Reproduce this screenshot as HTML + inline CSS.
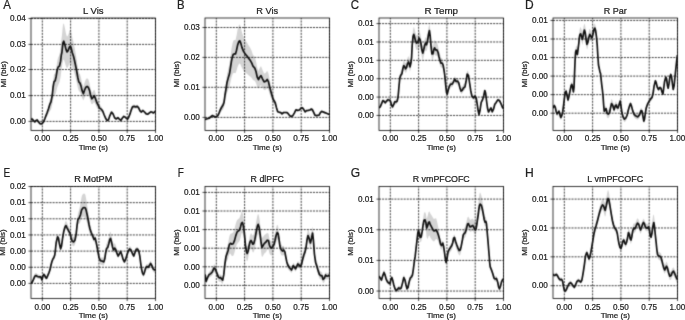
<!DOCTYPE html><html><head><meta charset="utf-8"><style>html,body{margin:0;padding:0;background:#fff;}svg{display:block;will-change:transform}text{font-family:"Liberation Sans", sans-serif;fill:#222;stroke:#222;stroke-width:0.22px}</style></head><body>
<svg width="685" height="320" viewBox="0 0 685 320" xmlns="http://www.w3.org/2000/svg">
<defs><filter id="bl" x="0" y="0" width="685" height="320" filterUnits="userSpaceOnUse" color-interpolation-filters="sRGB"><feConvolveMatrix order="3" kernelMatrix="0.02250 0.10500 0.02250 0.10500 0.49000 0.10500 0.02250 0.10500 0.02250" divisor="1" edgeMode="duplicate"/></filter></defs>
<rect width="685" height="320" fill="#fff"/><g filter="url(#bl)"><rect width="685" height="320" fill="#fff"/>
<clipPath id="clipA"><rect x="31.0" y="18.0" width="124.5" height="112.5"/></clipPath>
<polygon clip-path="url(#clipA)" points="31.0,117.8 31.5,117.6 32.0,117.4 32.5,117.7 33.0,118.5 33.5,119.2 34.0,119.9 34.5,120.4 35.0,120.4 35.5,119.9 36.0,119.2 36.5,119.0 37.0,118.7 37.5,119.0 38.0,119.9 38.5,120.7 39.0,121.3 39.5,122.0 40.0,122.4 40.5,122.6 41.0,122.8 41.5,122.6 42.0,122.4 42.5,122.0 43.0,121.3 43.5,120.7 44.0,119.3 44.5,117.8 45.0,116.3 45.5,114.8 46.0,113.2 46.5,111.8 47.0,110.4 47.5,108.9 48.0,107.2 48.5,105.5 49.0,103.5 49.5,101.6 50.0,100.1 50.5,99.0 51.0,97.8 51.5,94.7 52.0,91.7 52.5,87.5 53.0,81.7 53.5,77.9 54.0,74.6 54.5,74.0 55.0,73.4 55.5,71.9 56.0,69.3 56.5,66.3 57.0,62.6 57.5,59.9 58.0,58.0 58.5,56.8 59.0,55.9 59.5,54.6 60.0,51.7 60.5,48.7 61.0,43.4 61.5,38.6 62.0,34.9 62.5,29.3 63.0,24.7 63.5,23.6 64.0,24.1 64.5,26.2 65.0,28.6 65.5,31.2 66.0,33.8 66.5,35.3 67.0,36.8 67.5,36.1 68.0,35.4 68.5,34.0 69.0,32.4 69.5,30.8 70.0,30.4 70.5,30.3 71.0,31.6 71.5,33.6 72.0,36.2 72.5,38.4 73.0,40.2 73.5,42.0 74.0,44.5 74.5,47.0 75.0,49.7 75.5,52.5 76.0,55.5 76.5,58.5 77.0,62.1 77.5,65.7 78.0,68.8 78.5,71.5 79.0,73.1 79.5,73.7 80.0,74.2 80.5,75.9 81.0,77.7 81.5,80.2 82.0,82.7 82.5,84.4 83.0,85.9 83.5,86.6 84.0,84.8 84.5,82.9 85.0,81.5 85.5,80.2 86.0,79.1 86.5,78.7 87.0,78.3 87.5,78.6 88.0,79.1 88.5,79.8 89.0,81.4 89.5,82.9 90.0,85.6 90.5,88.5 91.0,90.3 91.5,92.1 92.0,92.7 92.5,92.1 93.0,91.5 93.5,90.6 94.0,89.7 94.5,90.0 95.0,91.5 95.5,93.0 96.0,94.8 96.5,96.6 97.0,98.1 97.5,99.2 98.0,100.3 98.5,101.7 99.0,103.1 99.5,104.5 100.0,105.2 100.5,105.8 101.0,106.3 101.5,106.9 102.0,107.8 102.5,108.8 103.0,110.1 103.5,111.6 104.0,113.1 104.5,114.4 105.0,115.6 105.5,116.9 106.0,118.1 106.5,118.9 107.0,119.8 107.5,119.7 108.0,119.5 108.5,119.0 109.0,117.3 109.5,115.7 110.0,114.2 110.5,113.1 111.0,111.9 111.5,110.8 112.0,111.3 112.5,111.9 113.0,112.4 113.5,113.8 114.0,115.2 114.5,116.5 115.0,117.2 115.5,117.6 116.0,118.0 116.5,118.0 117.0,117.5 117.5,117.0 118.0,116.8 118.5,117.4 119.0,118.0 119.5,118.5 120.0,119.1 120.5,119.6 121.0,119.4 121.5,118.6 122.0,117.8 122.5,117.1 123.0,116.4 123.5,115.7 124.0,115.5 124.5,115.8 125.0,116.0 125.5,116.6 126.0,117.1 126.5,117.6 127.0,118.1 127.5,118.5 128.0,117.5 128.5,116.5 129.0,115.4 129.5,114.0 130.0,112.7 130.5,111.0 131.0,109.4 131.5,107.8 132.0,106.4 132.5,104.9 133.0,104.8 133.5,104.7 134.0,104.6 134.5,104.7 135.0,104.9 135.5,105.1 136.0,105.1 136.5,104.9 137.0,104.7 137.5,104.8 138.0,105.4 138.5,105.9 139.0,107.0 139.5,108.2 140.0,109.3 140.5,109.8 141.0,110.3 141.5,110.6 142.0,110.0 142.5,109.5 143.0,109.2 143.5,109.7 144.0,110.2 144.5,110.7 145.0,111.3 145.5,111.9 146.0,112.5 146.5,112.8 147.0,112.9 147.5,113.1 148.0,113.1 148.5,112.6 149.0,112.2 149.5,111.7 150.0,111.2 150.5,110.7 151.0,110.6 151.5,110.7 152.0,110.9 152.5,111.2 153.0,111.5 153.5,111.8 154.0,111.3 154.5,110.8 155.0,110.2 155.0,112.7 154.5,113.2 154.0,113.7 153.5,114.2 153.0,113.9 152.5,113.6 152.0,113.4 151.5,113.3 151.0,113.1 150.5,113.2 150.0,113.7 149.5,114.1 149.0,114.5 148.5,114.9 148.0,115.3 147.5,115.3 147.0,115.2 146.5,115.1 146.0,114.8 145.5,114.3 145.0,113.8 144.5,113.3 144.0,112.9 143.5,112.4 143.0,112.0 142.5,112.3 142.0,112.8 141.5,113.2 141.0,113.0 140.5,112.6 140.0,112.2 139.5,111.2 139.0,110.3 138.5,109.3 138.0,108.9 137.5,108.4 137.0,108.3 136.5,108.5 136.0,108.7 135.5,108.7 135.0,108.5 134.5,108.4 134.0,108.3 133.5,108.4 133.0,108.5 132.5,108.6 132.0,109.8 131.5,111.0 131.0,112.3 130.5,113.7 130.0,115.1 129.5,116.2 129.0,117.4 128.5,118.4 128.0,119.2 127.5,120.0 127.0,119.6 126.5,119.3 126.0,118.9 125.5,118.4 125.0,118.0 124.5,117.7 124.0,117.5 123.5,117.7 123.0,118.3 122.5,118.8 122.0,119.4 121.5,120.1 121.0,120.8 120.5,120.9 120.0,120.5 119.5,120.1 119.0,119.6 118.5,119.1 118.0,118.6 117.5,118.8 117.0,119.2 116.5,119.6 116.0,119.6 115.5,119.3 115.0,118.9 114.5,118.5 114.0,117.3 113.5,116.2 113.0,115.1 112.5,114.6 112.0,114.2 111.5,113.7 111.0,114.7 110.5,115.6 110.0,116.6 109.5,117.8 109.0,119.1 108.5,120.5 108.0,120.9 107.5,121.1 107.0,121.1 106.5,120.4 106.0,119.7 105.5,118.8 105.0,117.8 104.5,116.7 104.0,115.7 103.5,114.7 103.0,113.7 102.5,112.9 102.0,112.4 101.5,112.0 101.0,111.8 100.5,111.7 100.0,111.5 99.5,111.3 99.0,110.6 98.5,109.9 98.0,109.4 97.5,108.6 97.0,107.9 96.5,106.9 96.0,105.7 95.5,104.5 95.0,103.5 94.5,102.5 94.0,102.3 93.5,102.9 93.0,103.5 92.5,103.9 92.0,104.3 91.5,103.9 91.0,102.7 90.5,101.5 90.0,99.5 89.5,97.8 89.0,96.7 88.5,95.7 88.0,95.2 87.5,94.9 87.0,94.7 86.5,94.9 86.0,95.2 85.5,96.0 85.0,96.8 84.5,97.7 84.0,99.0 83.5,100.2 83.0,99.7 82.5,98.7 82.0,97.6 81.5,96.0 81.0,94.3 80.5,93.1 80.0,92.0 79.5,91.6 79.0,91.2 78.5,90.1 78.0,88.4 77.5,86.3 77.0,83.9 76.5,81.5 76.0,79.5 75.5,77.5 75.0,75.6 74.5,73.8 74.0,72.1 73.5,70.5 73.0,69.3 72.5,68.1 72.0,66.6 71.5,65.0 71.0,63.8 70.5,63.1 70.0,63.3 69.5,63.7 69.0,64.8 68.5,66.0 68.0,67.1 67.5,67.7 67.0,68.3 66.5,67.4 66.0,66.6 65.5,64.8 65.0,63.0 64.5,61.4 64.0,60.0 63.5,59.6 63.0,60.2 62.5,63.2 62.0,66.7 61.5,69.7 61.0,73.4 60.5,77.3 60.0,79.7 59.5,82.0 59.0,83.3 58.5,84.3 58.0,85.5 57.5,86.7 57.0,88.3 56.5,90.5 56.0,92.4 55.5,93.9 55.0,94.8 54.5,95.2 54.0,95.6 53.5,97.5 53.0,99.8 52.5,103.3 52.0,105.8 51.5,107.7 51.0,109.6 50.5,110.2 50.0,111.0 49.5,111.6 49.0,112.6 48.5,113.6 48.0,114.5 47.5,115.5 47.0,116.3 46.5,117.1 46.0,118.0 45.5,119.0 45.0,120.0 44.5,121.0 44.0,122.0 43.5,123.1 43.0,123.7 42.5,124.4 42.0,124.8 41.5,125.0 41.0,125.2 40.5,125.0 40.0,124.8 39.5,124.4 39.0,123.7 38.5,123.1 38.0,122.4 37.5,121.8 37.0,121.6 36.5,121.8 36.0,122.0 35.5,122.4 35.0,122.8 34.5,122.8 34.0,122.4 33.5,122.0 33.0,121.4 32.5,120.9 32.0,120.7 31.5,120.9 31.0,121.0" fill="#d4d4d4"/>
<path d="M42.32 130.50V18.00M70.61 130.50V18.00M98.91 130.50V18.00M127.20 130.50V18.00M155.50 130.50V18.00M31.00 121.40H155.50M31.00 95.60H155.50M31.00 69.50H155.50M31.00 44.40H155.50M31.00 18.50H155.50" stroke="#000" stroke-width="0.75" stroke-dasharray="2.02 1.065" fill="none"/>
<polyline clip-path="url(#clipA)" points="31.0,119.4 32.2,119.0 33.5,120.6 34.8,121.9 36.0,120.6 37.2,120.0 38.5,121.9 39.8,123.5 41.0,124.0 42.2,123.5 43.5,121.9 44.8,118.8 46.0,115.6 47.2,112.5 48.5,108.8 49.8,104.4 51.0,101.9 52.3,95.0 53.1,87.0 54.0,81.9 55.2,80.6 56.2,76.2 57.2,70.0 58.1,67.2 59.4,66.2 60.6,61.2 61.3,55.0 61.9,52.5 62.9,43.1 63.8,41.2 64.8,44.4 66.0,49.4 67.0,51.9 68.1,50.6 69.5,46.9 70.4,46.2 71.2,48.1 72.2,52.5 73.5,56.2 74.4,60.0 75.2,63.8 76.5,70.0 77.8,77.5 78.8,81.9 80.0,83.1 80.9,85.6 82.1,90.6 83.4,93.8 84.6,90.0 85.9,87.2 87.1,86.4 88.4,87.5 89.6,90.6 90.5,95.0 91.8,98.8 93.0,97.5 94.2,95.6 95.5,98.8 96.8,102.5 98.4,105.6 99.6,108.1 101.5,109.4 102.8,111.2 104.2,115.0 105.9,118.8 107.1,120.6 108.4,120.0 109.9,115.6 111.5,112.2 113.0,113.8 114.6,117.8 116.2,119.0 117.9,117.6 119.1,118.9 120.8,120.5 122.2,118.2 123.8,116.4 125.0,117.0 126.2,118.2 127.5,119.2 128.8,117.0 130.0,113.9 131.2,110.1 132.5,106.8 134.1,106.4 135.8,107.0 137.2,106.4 138.5,107.6 140.0,110.8 141.4,112.0 142.9,110.5 144.5,112.0 146.2,113.9 147.9,114.2 149.1,113.2 150.8,111.8 152.2,112.2 153.5,113.0 154.8,111.8 155.4,111.0" fill="none" stroke="#111" stroke-width="1.7" stroke-linejoin="round" stroke-linecap="butt"/>
<rect x="31.0" y="18.0" width="124.5" height="112.5" fill="none" stroke="#000" stroke-width="0.78"/>
<path d="M42.32 130.50v2.5M70.61 130.50v2.5M98.91 130.50v2.5M127.20 130.50v2.5M155.50 130.50v2.5M31.00 121.40h-2.5M31.00 95.60h-2.5M31.00 69.50h-2.5M31.00 44.40h-2.5M31.00 18.50h-2.5" stroke="#000" stroke-width="0.72" fill="none"/>
<clipPath id="clipB"><rect x="205.0" y="18.0" width="124.5" height="112.5"/></clipPath>
<polygon clip-path="url(#clipB)" points="205.0,118.2 205.5,118.1 206.0,117.9 206.5,117.8 207.0,117.6 207.5,117.4 208.0,117.2 208.5,117.1 209.0,117.0 209.5,116.8 210.0,116.3 210.5,115.8 211.0,115.3 211.5,114.8 212.0,114.3 212.5,114.2 213.0,114.5 213.5,114.8 214.0,115.0 214.5,115.3 215.0,115.7 215.5,115.5 216.0,115.3 216.5,115.2 217.0,114.7 217.5,114.3 218.0,113.5 218.5,112.3 219.0,111.1 219.5,109.6 220.0,108.1 220.5,106.8 221.0,105.6 221.5,104.4 222.0,103.4 222.5,102.5 223.0,101.6 223.5,100.0 224.0,98.4 224.5,93.9 225.0,89.4 225.5,85.8 226.0,82.2 226.5,78.3 227.0,74.4 227.5,72.3 228.0,70.2 228.5,68.1 229.0,66.0 229.5,63.9 230.0,60.1 230.5,56.4 231.0,52.4 231.5,48.6 232.0,45.9 232.5,43.6 233.0,41.7 233.5,40.6 234.0,40.2 234.5,40.1 235.0,40.1 235.5,40.1 236.0,38.0 236.5,35.7 237.0,32.9 237.5,30.1 238.0,28.1 238.5,26.4 239.0,25.0 239.5,24.5 240.0,25.0 240.5,26.5 241.0,28.3 241.5,30.4 242.0,32.5 242.5,34.0 243.0,35.5 243.5,37.1 244.0,38.0 244.5,38.9 245.0,39.9 245.5,40.6 246.0,41.3 246.5,41.9 247.0,42.6 247.5,43.5 248.0,44.4 248.5,45.3 249.0,46.0 249.5,46.7 250.0,47.4 250.5,48.4 251.0,49.5 251.5,50.6 252.0,51.9 252.5,53.4 253.0,54.9 253.5,55.5 254.0,56.1 254.5,56.8 255.0,57.9 255.5,59.5 256.0,61.2 256.5,63.8 257.0,66.5 257.5,68.4 258.0,69.7 258.5,70.9 259.0,69.7 259.5,68.4 260.0,67.4 260.5,66.8 261.0,66.1 261.5,67.4 262.0,68.6 262.5,69.9 263.0,71.1 263.5,72.2 264.0,73.4 264.5,73.5 265.0,73.2 265.5,73.0 266.0,72.5 266.5,71.8 267.0,71.0 267.5,71.3 268.0,72.5 268.5,73.7 269.0,76.3 269.5,78.9 270.0,81.3 270.5,83.9 271.0,86.4 271.5,88.6 272.0,90.9 272.5,92.9 273.0,94.8 273.5,96.3 274.0,97.5 274.5,98.6 275.0,99.8 275.5,101.4 276.0,103.7 276.5,105.9 277.0,107.9 277.5,109.9 278.0,110.7 278.5,110.9 279.0,111.0 279.5,111.2 280.0,111.3 280.5,111.5 281.0,111.8 281.5,112.4 282.0,113.0 282.5,112.5 283.0,112.0 283.5,111.5 284.0,111.4 284.5,111.4 285.0,111.4 285.5,111.4 286.0,111.5 286.5,111.5 287.0,111.6 287.5,112.0 288.0,112.6 288.5,113.2 289.0,113.9 289.5,114.6 290.0,115.2 290.5,115.5 291.0,115.8 291.5,115.9 292.0,115.5 292.5,115.2 293.0,114.6 293.5,113.7 294.0,112.7 294.5,111.7 295.0,110.6 295.5,109.5 296.0,108.6 296.5,108.8 297.0,109.0 297.5,109.2 298.0,109.1 298.5,109.0 299.0,108.9 299.5,108.7 300.0,108.1 300.5,107.5 301.0,106.9 301.5,106.6 302.0,106.5 302.5,106.6 303.0,107.3 303.5,108.0 304.0,108.9 304.5,109.8 305.0,110.7 305.5,110.5 306.0,110.1 306.5,109.6 307.0,109.5 307.5,109.4 308.0,109.3 308.5,109.2 309.0,109.1 309.5,108.9 310.0,108.8 310.5,108.4 311.0,108.0 311.5,107.8 312.0,108.3 312.5,108.9 313.0,110.0 313.5,111.0 314.0,112.2 314.5,113.4 315.0,114.4 315.5,114.7 316.0,114.9 316.5,115.0 317.0,114.9 317.5,114.8 318.0,114.7 318.5,114.7 319.0,114.6 319.5,113.7 320.0,112.6 320.5,111.6 321.0,111.1 321.5,110.5 322.0,110.5 322.5,110.7 323.0,111.0 323.5,111.2 324.0,111.4 324.5,111.6 325.0,111.8 325.5,112.1 326.0,112.3 326.5,112.5 327.0,112.7 327.5,112.9 328.0,113.2 328.5,113.4 329.0,113.6 329.0,115.0 328.5,114.8 328.0,114.7 327.5,114.5 327.0,114.3 326.5,114.1 326.0,113.9 325.5,113.7 325.0,113.6 324.5,113.4 324.0,113.2 323.5,113.0 323.0,112.8 322.5,112.6 322.0,112.4 321.5,112.5 321.0,112.9 320.5,113.4 320.0,114.2 319.5,115.2 319.0,115.9 318.5,116.0 318.0,116.0 317.5,116.1 317.0,116.2 316.5,116.3 316.0,116.2 315.5,116.0 315.0,115.8 314.5,114.9 314.0,113.9 313.5,113.0 313.0,112.0 312.5,111.1 312.0,110.7 311.5,110.3 311.0,110.4 310.5,110.8 310.0,111.1 309.5,111.2 309.0,111.3 308.5,111.4 308.0,111.5 307.5,111.6 307.0,111.7 306.5,111.8 306.0,112.2 305.5,112.6 305.0,112.7 304.5,112.0 304.0,111.2 303.5,110.5 303.0,109.9 302.5,109.3 302.0,109.3 301.5,109.4 301.0,109.6 300.5,110.1 300.0,110.6 299.5,111.1 299.0,111.3 298.5,111.4 298.0,111.5 297.5,111.5 297.0,111.4 296.5,111.2 296.0,111.1 295.5,111.8 295.0,112.7 294.5,113.7 294.0,114.5 293.5,115.3 293.0,116.1 292.5,116.6 292.0,116.8 291.5,117.1 291.0,117.1 290.5,116.8 290.0,116.5 289.5,116.1 289.0,115.5 288.5,114.9 288.0,114.4 287.5,114.0 287.0,113.6 286.5,113.6 286.0,113.5 285.5,113.5 285.0,113.5 284.5,113.5 284.0,113.5 283.5,113.6 283.0,114.0 282.5,114.4 282.0,114.8 281.5,114.3 281.0,113.8 280.5,113.6 280.0,113.5 279.5,113.3 279.0,113.2 278.5,113.1 278.0,113.0 277.5,112.3 277.0,110.7 276.5,109.2 276.0,107.7 275.5,106.1 275.0,105.1 274.5,104.5 274.0,103.9 273.5,103.3 273.0,102.5 272.5,101.4 272.0,100.3 271.5,99.1 271.0,97.9 270.5,96.6 270.0,95.2 269.5,93.6 269.0,91.9 268.5,90.1 268.0,89.3 267.5,88.5 267.0,88.4 266.5,88.9 266.0,89.4 265.5,89.7 265.0,89.9 264.5,90.0 264.0,90.0 263.5,89.2 263.0,88.4 262.5,87.6 262.0,86.8 261.5,85.9 261.0,85.1 260.5,85.5 260.0,86.0 259.5,86.8 259.0,87.7 258.5,88.7 258.0,88.0 257.5,87.3 257.0,86.2 256.5,84.6 256.0,83.1 255.5,82.2 255.0,81.3 254.5,80.7 254.0,80.5 253.5,80.2 253.0,80.0 252.5,79.2 252.0,78.5 251.5,77.8 251.0,77.3 250.5,76.8 250.0,76.4 249.5,76.0 249.0,75.6 248.5,75.2 248.0,74.7 247.5,74.2 247.0,73.7 246.5,73.4 246.0,73.0 245.5,72.7 245.0,72.3 244.5,71.7 244.0,71.2 243.5,70.7 243.0,69.8 242.5,69.0 242.0,68.1 241.5,66.9 241.0,65.7 240.5,64.6 240.0,63.8 239.5,63.5 239.0,63.9 238.5,64.8 238.0,65.9 237.5,67.1 237.0,68.9 236.5,70.6 236.0,72.0 235.5,73.2 235.0,73.0 234.5,72.9 234.0,72.9 233.5,73.0 233.0,73.6 232.5,74.6 232.0,75.9 231.5,77.5 231.0,79.7 230.5,82.0 230.0,84.3 229.5,86.5 229.0,87.7 228.5,89.0 228.0,90.2 227.5,91.5 227.0,92.8 226.5,95.1 226.0,97.5 225.5,99.7 225.0,102.0 224.5,104.7 224.0,107.5 223.5,108.6 223.0,109.5 222.5,110.1 222.0,110.7 221.5,111.2 221.0,112.0 220.5,112.7 220.0,113.6 219.5,114.5 219.0,115.4 218.5,116.2 218.0,116.9 217.5,117.5 217.0,117.7 216.5,118.0 216.0,118.1 215.5,118.2 215.0,118.3 214.5,118.1 214.0,117.9 213.5,117.7 213.0,117.5 212.5,117.3 212.0,117.4 211.5,117.7 211.0,118.0 210.5,118.3 210.0,118.8 209.5,119.3 209.0,119.5 208.5,119.6 208.0,119.7 207.5,119.8 207.0,120.0 206.5,120.2 206.0,120.3 205.5,120.5 205.0,120.6" fill="#d4d4d4"/>
<path d="M216.32 130.50V18.00M244.61 130.50V18.00M272.91 130.50V18.00M301.20 130.50V18.00M329.50 130.50V18.00M205.00 117.40H329.50M205.00 87.30H329.50M205.00 57.40H329.50M205.00 27.50H329.50" stroke="#000" stroke-width="0.75" stroke-dasharray="2.02 1.065" fill="none"/>
<polyline clip-path="url(#clipB)" points="205.0,119.4 206.5,119.0 207.8,118.5 209.4,118.1 210.6,116.9 212.2,115.6 213.8,116.2 215.0,116.9 216.5,116.5 217.8,115.6 219.0,113.1 220.2,110.0 221.5,107.5 223.1,105.0 224.0,102.5 225.0,95.0 226.0,89.0 227.0,82.5 228.2,78.1 229.5,73.8 230.5,67.5 231.4,61.5 232.2,57.6 233.2,54.5 234.2,53.9 235.5,53.9 236.4,50.8 237.6,45.1 238.9,41.4 239.8,40.8 240.8,43.2 242.0,47.6 243.5,51.4 245.1,53.9 247.0,56.0 248.5,58.2 250.1,60.1 251.8,63.1 253.0,66.2 254.8,68.1 256.0,71.5 257.2,77.0 258.5,79.6 259.8,77.0 261.0,75.6 262.5,78.8 264.1,81.9 265.8,81.2 267.2,79.4 268.5,81.9 269.5,86.2 270.8,91.2 272.0,95.6 273.2,99.4 274.2,101.0 275.3,103.0 276.4,107.4 277.7,111.8 279.2,112.2 280.8,112.6 282.0,113.9 283.6,112.5 285.4,112.5 287.1,112.6 288.4,113.9 289.8,115.7 291.3,116.6 292.8,115.7 294.3,113.1 295.9,109.8 297.6,110.4 299.4,110.0 301.1,108.1 302.4,107.8 303.8,109.6 305.1,111.9 306.5,110.7 308.1,110.4 309.9,110.0 311.4,109.0 312.5,110.0 313.8,112.6 314.9,115.1 316.4,115.7 317.8,115.4 319.1,115.2 320.4,112.6 321.7,111.3 323.0,111.9 324.8,112.6 326.5,113.3 328.7,114.2 329.4,114.4" fill="none" stroke="#111" stroke-width="1.7" stroke-linejoin="round" stroke-linecap="butt"/>
<rect x="205.0" y="18.0" width="124.5" height="112.5" fill="none" stroke="#000" stroke-width="0.78"/>
<path d="M216.32 130.50v2.5M244.61 130.50v2.5M272.91 130.50v2.5M301.20 130.50v2.5M329.50 130.50v2.5M205.00 117.40h-2.5M205.00 87.30h-2.5M205.00 57.40h-2.5M205.00 27.50h-2.5" stroke="#000" stroke-width="0.72" fill="none"/>
<clipPath id="clipC"><rect x="379.0" y="18.0" width="124.5" height="112.5"/></clipPath>
<polygon clip-path="url(#clipC)" points="379.0,106.2 379.5,105.9 380.0,105.5 380.5,104.7 381.0,103.4 381.5,102.1 382.0,100.8 382.5,99.5 383.0,99.0 383.5,99.3 384.0,99.5 384.5,100.1 385.0,100.6 385.5,100.6 386.0,100.0 386.5,99.4 387.0,98.7 387.5,98.1 388.0,97.8 388.5,97.9 389.0,97.9 389.5,98.2 390.0,98.7 390.5,99.1 391.0,101.0 391.5,102.8 392.0,103.8 392.5,104.7 393.0,103.7 393.5,102.6 394.0,101.4 394.5,99.9 395.0,99.6 395.5,99.5 396.0,99.5 396.5,99.2 397.0,98.9 397.5,97.1 398.0,95.0 398.5,89.5 399.0,83.2 399.5,77.6 400.0,73.9 400.5,72.1 401.0,71.0 401.5,70.1 402.0,68.7 402.5,65.5 403.0,63.0 403.5,61.3 404.0,60.8 404.5,61.4 405.0,62.2 405.5,63.2 406.0,62.8 406.5,62.0 407.0,60.1 407.5,58.1 408.0,57.1 408.5,56.1 409.0,57.4 409.5,58.9 410.0,60.9 410.5,58.5 411.0,56.0 411.5,51.6 412.0,42.8 412.5,35.2 413.0,29.8 413.5,27.4 414.0,27.1 414.5,28.7 415.0,30.8 415.5,33.1 416.0,34.4 416.5,35.5 417.0,35.4 417.5,35.2 418.0,34.3 418.5,32.6 419.0,30.9 419.5,31.7 420.0,32.4 420.5,34.7 421.0,37.0 421.5,40.5 422.0,43.8 422.5,45.7 423.0,45.8 423.5,44.0 424.0,42.1 424.5,40.0 425.0,38.4 425.5,37.2 426.0,37.6 426.5,38.4 427.0,36.5 427.5,34.6 428.0,31.1 428.5,27.5 429.0,25.3 429.5,24.2 430.0,27.2 430.5,32.1 431.0,38.7 431.5,43.0 432.0,46.5 432.5,46.3 433.0,45.6 433.5,43.4 434.0,41.3 434.5,40.1 435.0,40.6 435.5,42.0 436.0,42.3 436.5,42.4 437.0,42.8 437.5,44.1 438.0,45.5 438.5,47.9 439.0,50.5 439.5,52.5 440.0,54.6 440.5,56.1 441.0,57.7 441.5,58.0 442.0,58.3 442.5,59.2 443.0,60.6 443.5,63.3 444.0,66.4 444.5,70.4 445.0,75.1 445.5,80.2 446.0,84.9 446.5,89.4 447.0,90.6 447.5,90.1 448.0,87.9 448.5,86.1 449.0,84.5 449.5,82.9 450.0,82.2 450.5,81.4 451.0,81.2 451.5,81.2 452.0,81.2 452.5,80.8 453.0,79.8 453.5,78.8 454.0,77.7 454.5,76.5 455.0,76.5 455.5,77.5 456.0,78.4 456.5,78.2 457.0,78.1 457.5,77.9 458.0,78.6 458.5,79.3 459.0,80.8 459.5,82.9 460.0,84.7 460.5,86.2 461.0,87.6 461.5,87.2 462.0,86.8 462.5,86.2 463.0,85.2 463.5,84.3 464.0,83.8 464.5,83.4 465.0,82.9 465.5,80.4 466.0,77.8 466.5,74.9 467.0,71.6 467.5,70.4 468.0,71.2 468.5,71.9 469.0,75.4 469.5,78.9 470.0,82.4 470.5,85.9 471.0,88.9 471.5,91.4 472.0,93.5 472.5,94.1 473.0,94.7 473.5,95.4 474.0,95.0 474.5,94.5 475.0,94.1 475.5,94.9 476.0,95.6 476.5,97.6 477.0,100.7 477.5,104.1 478.0,107.8 478.5,110.3 479.0,112.6 479.5,110.6 480.0,108.6 480.5,105.4 481.0,102.1 481.5,100.0 482.0,99.0 482.5,98.0 483.0,96.3 483.5,94.5 484.0,92.4 484.5,89.9 485.0,89.4 485.5,90.9 486.0,94.5 486.5,98.7 487.0,102.5 487.5,106.2 488.0,108.2 488.5,110.2 489.0,109.4 489.5,108.6 490.0,107.8 490.5,107.0 491.0,106.3 491.5,107.8 492.0,109.3 492.5,109.6 493.0,108.6 493.5,107.6 494.0,105.6 494.5,103.6 495.0,102.3 495.5,101.7 496.0,101.1 496.5,100.4 497.0,99.5 497.5,98.7 498.0,98.4 498.5,98.6 499.0,98.8 499.5,99.1 500.0,100.1 500.5,101.1 501.0,102.1 501.5,103.3 502.0,104.6 502.5,105.9 503.0,106.6 503.0,109.6 502.5,108.9 502.0,107.7 501.5,106.4 501.0,105.1 500.5,104.2 500.0,103.2 499.5,102.3 499.0,101.9 498.5,101.8 498.0,101.6 497.5,101.9 497.0,102.8 496.5,103.6 496.0,104.3 495.5,105.0 495.0,105.6 494.5,106.9 494.0,108.9 493.5,110.9 493.0,111.9 492.5,112.9 492.0,112.7 491.5,111.2 491.0,109.7 490.5,110.5 490.0,111.3 489.5,112.1 489.0,112.9 488.5,113.8 488.0,111.8 487.5,109.8 487.0,106.0 486.5,102.3 486.0,98.1 485.5,94.5 485.0,93.1 484.5,93.6 484.0,96.1 483.5,98.2 483.0,100.0 482.5,101.8 482.0,102.8 481.5,103.8 481.0,105.9 480.5,109.2 480.0,112.4 479.5,114.4 479.0,116.4 478.5,114.2 478.0,111.7 477.5,108.0 477.0,104.7 476.5,101.5 476.0,99.6 475.5,98.9 475.0,98.1 474.5,98.7 474.0,99.3 473.5,99.9 473.0,99.5 472.5,99.0 472.0,98.6 471.5,96.7 471.0,94.4 470.5,91.6 470.0,88.3 469.5,85.0 469.0,81.7 468.5,78.3 468.0,77.8 467.5,77.2 467.0,78.6 466.5,81.9 466.0,84.8 465.5,87.2 465.0,89.8 464.5,90.2 464.0,90.6 463.5,91.0 463.0,91.9 462.5,92.8 462.0,93.4 461.5,93.8 461.0,94.1 460.5,92.6 460.0,91.1 459.5,89.3 459.0,87.1 458.5,85.6 458.0,84.9 457.5,84.1 457.0,84.2 456.5,84.4 456.0,84.5 455.5,83.5 455.0,82.5 454.5,82.5 454.0,83.7 453.5,84.8 453.0,85.8 452.5,86.8 452.0,87.2 451.5,87.2 451.0,87.2 450.5,87.4 450.0,88.2 449.5,88.9 449.0,90.5 448.5,92.1 448.0,93.9 447.5,96.1 447.0,96.6 446.5,95.4 446.0,90.9 445.5,86.2 445.0,81.1 444.5,76.9 444.0,73.4 443.5,70.8 443.0,68.6 442.5,67.7 442.0,67.3 441.5,67.5 441.0,67.7 440.5,66.7 440.0,65.6 439.5,63.9 439.0,62.1 438.5,59.8 438.0,57.7 437.5,56.6 437.0,55.6 436.5,55.5 436.0,55.7 435.5,55.7 435.0,54.6 434.5,54.0 434.0,55.2 433.5,57.1 433.0,59.3 432.5,59.8 432.0,60.0 431.5,56.4 431.0,52.0 430.5,45.3 430.0,40.4 429.5,37.2 429.0,38.3 428.5,40.5 428.0,44.1 427.5,47.6 427.0,49.5 426.5,51.4 426.0,50.6 425.5,50.2 425.0,51.4 424.5,53.2 424.0,55.5 423.5,57.6 423.0,59.6 422.5,59.7 422.0,58.0 421.5,54.9 421.0,51.5 420.5,49.5 420.0,47.4 419.5,46.6 419.0,45.8 418.5,47.4 418.0,49.0 417.5,49.8 417.0,49.9 416.5,49.9 416.0,48.7 415.5,47.3 415.0,45.0 414.5,42.8 414.0,41.1 413.5,41.0 413.0,43.0 412.5,48.1 412.0,55.3 411.5,63.7 411.0,67.8 410.5,69.8 410.0,71.9 409.5,69.7 409.0,68.1 408.5,66.7 408.0,67.5 407.5,68.4 407.0,70.2 406.5,72.0 406.0,72.6 405.5,72.9 405.0,71.7 404.5,70.8 404.0,70.1 403.5,70.5 403.0,72.0 402.5,74.1 402.0,76.9 401.5,77.9 401.0,78.4 400.5,79.1 400.0,80.5 399.5,83.8 399.0,89.0 398.5,94.9 398.0,100.0 397.5,102.1 397.0,103.8 396.5,104.0 396.0,104.2 395.5,104.3 395.0,104.2 394.5,104.5 394.0,106.0 393.5,107.2 393.0,108.1 392.5,109.1 392.0,108.1 391.5,107.2 391.0,105.3 390.5,103.4 390.0,102.8 389.5,102.3 389.0,102.0 388.5,101.9 388.0,101.8 387.5,102.0 387.0,102.6 386.5,103.1 386.0,103.7 385.5,104.3 385.0,104.3 384.5,103.6 384.0,103.0 383.5,102.7 383.0,102.4 382.5,102.9 382.0,104.1 381.5,105.4 381.0,106.6 380.5,107.8 380.0,108.6 379.5,108.9 379.0,109.2" fill="#d4d4d4"/>
<path d="M390.32 130.50V18.00M418.61 130.50V18.00M446.91 130.50V18.00M475.20 130.50V18.00M503.50 130.50V18.00M379.00 115.45H503.50M379.00 97.08H503.50M379.00 78.71H503.50M379.00 60.34H503.50M379.00 41.97H503.50M379.00 23.60H503.50" stroke="#000" stroke-width="0.75" stroke-dasharray="2.02 1.065" fill="none"/>
<polyline clip-path="url(#clipC)" points="379.0,107.8 380.2,106.9 381.5,103.8 382.8,100.6 384.0,101.2 385.2,102.8 386.5,101.2 387.8,99.8 389.2,100.0 390.5,101.2 391.5,105.0 392.5,106.9 393.8,104.4 394.6,101.9 395.9,101.9 397.1,101.2 398.0,97.5 398.6,91.2 399.0,86.2 399.8,78.1 400.6,75.6 401.9,73.8 402.8,68.8 403.8,65.6 404.8,66.9 405.6,68.8 406.5,67.5 407.5,63.8 408.5,61.9 409.4,64.4 410.0,66.9 411.0,62.5 411.6,57.5 412.2,45.0 413.1,36.2 413.8,34.4 414.6,36.9 415.6,41.2 416.5,43.1 417.8,42.5 419.0,38.1 420.0,39.4 421.0,43.8 421.9,50.0 422.8,53.1 423.8,49.4 424.8,45.0 425.6,43.1 426.5,44.8 427.5,41.2 428.5,34.4 429.4,30.6 430.2,36.0 431.0,46.0 431.9,54.0 432.9,53.8 433.9,49.4 434.6,47.8 435.6,50.0 436.9,49.8 438.1,52.5 439.0,56.9 440.0,60.6 441.0,63.1 442.2,63.1 443.1,65.0 444.0,70.0 444.8,75.5 445.6,84.2 446.5,92.4 447.2,94.2 448.1,90.5 449.4,86.1 450.6,84.2 452.2,84.2 453.5,81.8 454.8,79.0 456.0,81.5 457.5,81.1 458.8,83.0 459.8,87.4 461.0,91.1 462.2,90.2 463.5,88.0 465.0,86.8 466.2,80.5 467.2,74.0 468.5,75.5 469.6,83.0 470.8,91.0 471.9,96.1 473.5,97.8 475.0,96.1 476.2,98.0 477.2,104.2 478.1,110.5 479.0,114.5 480.0,110.5 481.2,102.4 482.5,99.9 483.8,95.5 484.8,90.5 485.6,93.0 486.5,100.5 487.5,108.0 488.5,112.0 489.8,109.9 491.0,108.0 492.2,111.8 493.5,109.2 494.8,104.2 496.2,102.4 497.8,99.9 499.4,100.5 501.0,103.6 502.5,107.4 503.4,108.6" fill="none" stroke="#111" stroke-width="1.7" stroke-linejoin="round" stroke-linecap="butt"/>
<rect x="379.0" y="18.0" width="124.5" height="112.5" fill="none" stroke="#000" stroke-width="0.78"/>
<path d="M390.32 130.50v2.5M418.61 130.50v2.5M446.91 130.50v2.5M475.20 130.50v2.5M503.50 130.50v2.5M379.00 115.45h-2.5M379.00 97.08h-2.5M379.00 78.71h-2.5M379.00 60.34h-2.5M379.00 41.97h-2.5M379.00 23.60h-2.5" stroke="#000" stroke-width="0.72" fill="none"/>
<clipPath id="clipD"><rect x="553.0" y="18.0" width="124.5" height="112.5"/></clipPath>
<polygon clip-path="url(#clipD)" points="553.0,106.1 553.5,105.1 554.0,104.1 554.5,103.9 555.0,104.6 555.5,106.2 556.0,108.7 556.5,110.5 557.0,112.0 557.5,111.4 558.0,110.8 558.5,110.0 559.0,109.2 559.5,111.0 560.0,112.8 560.5,114.5 561.0,114.9 561.5,113.8 562.0,112.2 562.5,109.9 563.0,106.9 563.5,103.2 564.0,99.0 564.5,94.8 565.0,91.3 565.5,89.2 566.0,88.4 566.5,89.9 567.0,92.0 567.5,94.5 568.0,97.0 568.5,95.1 569.0,93.2 569.5,90.8 570.0,88.2 570.5,85.7 571.0,83.1 571.5,81.9 572.0,82.3 572.5,83.9 573.0,86.2 573.5,87.4 574.0,83.5 574.5,70.8 575.0,58.0 575.5,48.9 576.0,45.8 576.5,45.9 577.0,47.3 577.5,48.0 578.0,43.8 578.5,39.6 579.0,35.0 579.5,30.2 580.0,28.0 580.5,27.1 581.0,27.9 581.5,29.2 582.0,30.8 582.5,32.4 583.0,29.6 583.5,26.8 584.0,24.7 584.5,23.4 585.0,24.9 585.5,27.8 586.0,32.1 586.5,35.3 587.0,37.7 587.5,36.6 588.0,34.9 588.5,32.5 589.0,30.6 589.5,29.1 590.0,28.9 590.5,29.9 591.0,30.9 591.5,31.8 592.0,32.1 592.5,30.4 593.0,28.4 593.5,25.9 594.0,24.3 594.5,23.5 595.0,23.8 595.5,25.6 596.0,29.0 596.5,32.9 597.0,38.5 597.5,46.0 598.0,54.7 598.5,62.1 599.0,64.9 599.5,67.7 600.0,70.0 600.5,71.4 601.0,75.4 601.5,80.2 602.0,84.7 602.5,88.5 603.0,93.0 603.5,100.2 604.0,105.8 604.5,108.0 605.0,107.4 605.5,106.6 606.0,105.8 606.5,107.4 607.0,109.6 607.5,109.9 608.0,110.2 608.5,110.0 609.0,109.3 609.5,108.6 610.0,105.9 610.5,103.2 611.0,100.8 611.5,98.7 612.0,99.6 612.5,100.5 613.0,101.8 613.5,103.7 614.0,105.6 614.5,104.2 615.0,102.7 615.5,101.7 616.0,101.2 616.5,102.2 617.0,103.7 617.5,104.1 618.0,104.6 618.5,103.2 619.0,101.8 619.5,100.4 620.0,98.9 620.5,99.9 621.0,103.3 621.5,106.8 622.0,110.4 622.5,112.4 623.0,114.3 623.5,115.3 624.0,116.2 624.5,117.2 625.0,116.8 625.5,116.2 626.0,115.4 626.5,114.4 627.0,113.4 627.5,111.3 628.0,109.3 628.5,107.4 629.0,105.6 629.5,103.8 630.0,102.5 630.5,101.2 631.0,102.4 631.5,103.7 632.0,105.6 632.5,107.6 633.0,109.2 633.5,110.4 634.0,111.7 634.5,112.1 635.0,112.6 635.5,113.0 636.0,113.3 636.5,113.5 637.0,113.8 637.5,113.9 638.0,113.8 638.5,113.2 639.0,112.5 639.5,111.9 640.0,110.4 640.5,109.1 641.0,107.8 641.5,108.2 642.0,108.6 642.5,111.5 643.0,114.4 643.5,117.5 644.0,118.5 644.5,117.2 645.0,113.8 645.5,110.4 646.0,107.5 646.5,105.2 647.0,103.8 647.5,102.2 648.0,101.2 648.5,100.2 649.0,99.4 649.5,98.6 650.0,97.9 650.5,97.2 651.0,96.6 651.5,96.0 652.0,95.4 652.5,93.6 653.0,91.6 653.5,88.5 654.0,84.8 654.5,82.5 655.0,80.4 655.5,79.0 656.0,80.1 656.5,81.7 657.0,83.9 657.5,85.5 658.0,86.5 658.5,87.5 659.0,86.7 659.5,86.0 660.0,85.7 660.5,86.0 661.0,86.2 661.5,88.1 662.0,90.0 662.5,91.3 663.0,91.5 663.5,88.0 664.0,84.0 664.5,80.0 665.0,78.0 665.5,76.0 666.0,75.6 666.5,76.7 667.0,79.9 667.5,83.8 668.0,85.4 668.5,84.8 669.0,81.8 669.5,78.2 670.0,74.4 670.5,73.1 671.0,73.2 671.5,74.7 672.0,78.3 672.5,82.5 673.0,85.8 673.5,86.4 674.0,84.2 674.5,79.9 675.0,75.0 675.5,70.0 676.0,65.0 676.5,60.6 677.0,56.2 677.0,60.2 676.5,64.6 676.0,69.0 675.5,74.0 675.0,79.0 674.5,83.9 674.0,88.2 673.5,90.4 673.0,89.8 672.5,86.5 672.0,82.3 671.5,78.7 671.0,77.2 670.5,77.1 670.0,78.4 669.5,82.2 669.0,85.8 668.5,88.8 668.0,89.4 667.5,87.8 667.0,83.9 666.5,80.7 666.0,79.6 665.5,80.0 665.0,82.0 664.5,84.0 664.0,88.0 663.5,92.0 663.0,95.5 662.5,95.3 662.0,94.0 661.5,92.1 661.0,90.2 660.5,90.0 660.0,89.7 659.5,90.0 659.0,90.8 658.5,91.6 658.0,90.6 657.5,89.7 657.0,88.1 656.5,85.9 656.0,84.3 655.5,83.2 655.0,84.7 654.5,86.8 654.0,89.1 653.5,92.9 653.0,96.1 652.5,98.1 652.0,99.9 651.5,100.5 651.0,101.2 650.5,101.8 650.0,102.5 649.5,103.3 649.0,104.1 648.5,105.0 648.0,106.0 647.5,107.0 647.0,108.6 646.5,110.1 646.0,112.3 645.5,115.3 645.0,118.7 644.5,122.2 644.0,123.5 643.5,122.6 643.0,119.7 642.5,116.9 642.0,114.1 641.5,113.8 641.0,113.5 640.5,115.0 640.0,116.4 639.5,117.9 639.0,118.5 638.5,119.1 638.0,119.6 637.5,119.7 637.0,119.6 636.5,119.3 636.0,119.0 635.5,118.8 635.0,118.2 634.5,117.8 634.0,117.2 633.5,116.0 633.0,114.7 632.5,113.1 632.0,111.1 631.5,109.1 631.0,107.8 630.5,106.6 630.0,107.8 629.5,109.1 629.0,110.9 628.5,112.6 628.0,114.5 627.5,116.5 627.0,118.5 626.5,119.5 626.0,120.5 625.5,121.2 625.0,121.8 624.5,122.2 624.0,121.4 623.5,120.6 623.0,119.8 622.5,117.9 622.0,116.0 621.5,112.5 621.0,109.1 620.5,105.8 620.0,104.9 619.5,106.5 619.0,108.0 618.5,109.5 618.0,111.0 617.5,110.7 617.0,110.4 616.5,109.0 616.0,108.0 615.5,108.7 615.0,109.9 614.5,111.4 614.0,112.9 613.5,111.1 613.0,109.4 612.5,108.1 612.0,107.4 611.5,106.6 611.0,108.8 610.5,111.2 610.0,113.9 609.5,116.6 609.0,117.3 608.5,118.0 608.0,118.2 607.5,117.9 607.0,117.6 606.5,115.4 606.0,113.8 605.5,114.3 605.0,114.7 604.5,115.0 604.0,112.5 603.5,106.5 603.0,99.0 602.5,94.2 602.0,90.0 601.5,85.2 601.0,80.1 600.5,75.7 600.0,74.0 599.5,72.2 599.0,69.9 598.5,67.6 598.0,60.7 597.5,52.5 597.0,45.5 596.5,40.4 596.0,37.0 595.5,34.1 595.0,32.8 594.5,32.7 594.0,33.7 593.5,35.5 593.0,38.1 592.5,40.4 592.0,42.3 591.5,42.2 591.0,41.5 590.5,40.7 590.0,39.9 589.5,40.3 589.0,41.9 588.5,44.0 588.0,46.6 587.5,48.5 587.0,49.7 586.5,47.5 586.0,44.4 585.5,40.3 585.0,37.6 584.5,36.2 584.0,37.7 583.5,39.6 583.0,42.2 582.5,44.9 582.0,43.2 581.5,41.4 581.0,39.9 580.5,38.7 580.0,39.3 579.5,41.2 579.0,45.7 578.5,49.9 578.0,53.8 577.5,57.6 577.0,56.7 576.5,54.9 576.0,54.5 575.5,57.2 575.0,66.0 574.5,78.4 574.0,90.8 573.5,94.4 573.0,92.9 572.5,90.2 572.0,88.3 571.5,87.9 571.0,89.1 570.5,91.7 570.0,94.2 569.5,96.8 569.0,99.2 568.5,101.1 568.0,103.0 567.5,100.5 567.0,98.0 566.5,95.9 566.0,94.4 565.5,95.1 565.0,97.2 564.5,100.5 564.0,104.7 563.5,108.7 563.0,112.4 562.5,115.3 562.0,117.5 561.5,119.1 561.0,120.0 560.5,119.6 560.0,117.8 559.5,115.9 559.0,114.1 558.5,114.8 558.0,115.5 557.5,116.0 557.0,116.6 556.5,115.0 556.0,113.2 555.5,110.5 555.0,108.9 554.5,108.1 554.0,108.2 553.5,109.2 553.0,110.1" fill="#d4d4d4"/>
<path d="M564.32 130.50V18.00M592.61 130.50V18.00M620.91 130.50V18.00M649.20 130.50V18.00M677.50 130.50V18.00M553.00 113.20H677.50M553.00 94.65H677.50M553.00 76.10H677.50M553.00 57.55H677.50M553.00 39.00H677.50M553.00 20.45H677.50" stroke="#000" stroke-width="0.75" stroke-dasharray="2.02 1.065" fill="none"/>
<polyline clip-path="url(#clipD)" points="553.0,108.1 554.2,105.6 555.2,106.9 556.1,111.2 557.0,114.0 558.0,112.8 559.0,111.2 559.9,114.4 560.8,117.5 561.8,115.6 562.8,111.2 563.6,105.0 564.5,97.5 565.2,92.5 566.1,91.2 567.0,95.0 568.0,100.0 569.0,96.2 570.0,91.2 571.1,85.6 571.8,84.4 572.6,87.5 573.4,91.9 574.0,87.5 574.5,75.0 575.1,60.0 575.6,52.0 576.2,50.2 576.8,52.0 577.4,54.5 578.1,49.0 578.9,42.5 579.3,38.0 579.8,35.0 580.6,33.8 581.5,36.2 582.5,39.4 583.5,33.8 584.4,30.0 585.2,32.5 586.0,38.8 586.9,44.4 587.8,42.5 588.8,37.5 589.8,34.4 590.8,36.2 591.9,38.1 592.8,35.0 593.8,30.0 594.8,28.1 595.6,30.6 596.5,37.0 597.2,45.0 597.8,55.0 598.5,65.0 599.8,71.2 600.6,73.8 601.2,80.0 601.9,86.2 602.4,90.0 603.0,95.5 603.6,104.2 604.2,111.1 605.2,109.9 606.1,108.6 607.0,113.0 608.2,114.2 609.5,113.0 610.5,108.0 611.5,103.6 612.8,105.5 614.0,109.9 615.2,106.1 616.1,104.9 617.0,107.4 618.0,108.0 619.2,104.2 620.2,101.1 621.1,106.8 622.0,113.0 623.0,116.8 624.5,119.2 625.8,118.0 627.0,115.5 628.2,110.5 629.5,106.1 630.5,103.6 631.5,106.1 632.8,111.1 634.0,114.2 635.5,115.8 637.0,116.6 637.9,116.8 639.5,114.9 641.0,110.5 642.0,111.1 642.9,116.1 643.8,121.1 644.5,119.2 645.4,113.0 646.2,108.0 647.5,104.2 648.8,101.8 650.0,99.9 651.0,98.6 652.0,97.4 652.9,94.2 653.5,90.5 654.1,86.0 654.5,84.5 655.4,80.8 656.2,82.6 657.2,87.0 658.5,89.5 659.8,87.6 661.0,88.2 662.0,92.0 662.9,94.2 663.5,90.0 664.5,82.0 665.8,77.0 666.6,78.9 667.5,85.8 668.2,88.2 669.1,83.2 670.0,76.4 670.8,74.5 671.6,77.0 672.5,84.5 673.2,89.5 674.1,85.8 675.0,77.0 676.0,67.0 677.0,58.2 677.4,55.0" fill="none" stroke="#111" stroke-width="1.7" stroke-linejoin="round" stroke-linecap="butt"/>
<rect x="553.0" y="18.0" width="124.5" height="112.5" fill="none" stroke="#000" stroke-width="0.78"/>
<path d="M564.32 130.50v2.5M592.61 130.50v2.5M620.91 130.50v2.5M649.20 130.50v2.5M677.50 130.50v2.5M553.00 113.20h-2.5M553.00 94.65h-2.5M553.00 76.10h-2.5M553.00 57.55h-2.5M553.00 39.00h-2.5M553.00 20.45h-2.5" stroke="#000" stroke-width="0.72" fill="none"/>
<clipPath id="clipE"><rect x="31.0" y="186.5" width="124.5" height="112.0"/></clipPath>
<polygon clip-path="url(#clipE)" points="31.0,281.6 31.5,281.0 32.0,280.4 32.5,279.4 33.0,278.0 33.5,276.6 34.0,275.1 34.5,274.0 35.0,273.3 35.5,273.1 36.0,272.9 36.5,273.3 37.0,273.7 37.5,274.1 38.0,274.3 38.5,274.5 39.0,274.7 39.5,274.8 40.0,274.9 40.5,274.9 41.0,275.5 41.5,276.8 42.0,278.0 42.5,275.9 43.0,274.0 43.5,272.9 44.0,272.7 44.5,273.3 45.0,274.1 45.5,275.2 46.0,275.9 46.5,276.1 47.0,275.3 47.5,274.2 48.0,273.0 48.5,271.7 49.0,270.4 49.5,269.1 50.0,267.8 50.5,265.3 51.0,262.8 51.5,260.9 52.0,258.9 52.5,257.6 53.0,256.4 53.5,255.5 54.0,254.4 54.5,252.9 55.0,250.2 55.5,246.2 56.0,241.7 56.5,238.4 57.0,236.1 57.5,233.9 58.0,234.5 58.5,235.1 59.0,238.2 59.5,241.2 60.0,243.2 60.5,245.3 61.0,244.6 61.5,243.2 62.0,239.5 62.5,235.5 63.0,232.2 63.5,229.0 64.0,226.4 64.5,224.4 65.0,222.4 65.5,221.5 66.0,220.6 66.5,221.7 67.0,222.8 67.5,224.0 68.0,225.2 68.5,226.3 69.0,227.4 69.5,228.2 70.0,229.1 70.5,231.2 71.0,233.2 71.5,234.6 72.0,236.0 72.5,236.7 73.0,236.8 73.5,236.9 74.0,236.5 74.5,235.6 75.0,234.8 75.5,232.1 76.0,229.5 76.5,225.6 77.0,220.3 77.5,216.4 78.0,213.4 78.5,211.8 79.0,210.2 79.5,208.1 80.0,206.0 80.5,203.6 81.0,200.5 81.5,197.4 82.0,195.4 82.5,194.7 83.0,194.1 83.5,193.8 84.0,193.6 84.5,193.7 85.0,193.9 85.5,195.4 86.0,197.9 86.5,200.7 87.0,203.9 87.5,207.2 88.0,210.8 88.5,214.1 89.0,217.7 89.5,220.7 90.0,223.5 90.5,225.5 91.0,227.6 91.5,229.5 92.0,231.4 92.5,232.6 93.0,233.9 93.5,235.1 94.0,236.4 94.5,235.9 95.0,235.4 95.5,236.2 96.0,238.4 96.5,240.8 97.0,243.2 97.5,246.0 98.0,248.9 98.5,251.7 99.0,254.5 99.5,255.8 100.0,257.0 100.5,257.2 101.0,257.5 101.5,257.6 102.0,257.5 102.5,257.4 103.0,257.5 103.5,257.6 104.0,256.8 104.5,255.0 105.0,252.4 105.5,248.9 106.0,246.2 106.5,243.5 107.0,242.7 107.5,241.8 108.0,240.4 108.5,238.4 109.0,236.2 109.5,233.7 110.0,232.1 110.5,231.8 111.0,233.4 111.5,235.5 112.0,238.2 112.5,240.9 113.0,242.6 113.5,244.4 114.0,243.8 114.5,243.3 115.0,243.5 115.5,244.5 116.0,246.1 116.5,247.9 117.0,249.5 117.5,251.1 118.0,252.6 118.5,252.5 119.0,252.0 119.5,251.5 120.0,250.8 120.5,249.7 121.0,250.5 121.5,251.8 122.0,253.2 122.5,254.9 123.0,256.7 123.5,257.8 124.0,258.7 124.5,259.2 125.0,258.1 125.5,257.1 126.0,255.5 126.5,253.9 127.0,252.3 127.5,250.7 128.0,249.0 128.5,248.0 129.0,247.1 129.5,246.2 130.0,246.3 130.5,246.7 131.0,247.1 131.5,248.4 132.0,249.7 132.5,251.0 133.0,252.0 133.5,252.9 134.0,252.7 134.5,251.3 135.0,250.0 135.5,248.8 136.0,247.6 136.5,247.0 137.0,246.9 137.5,246.8 138.0,247.7 138.5,248.7 139.0,250.4 139.5,252.9 140.0,256.1 140.5,259.7 141.0,263.2 141.5,266.6 142.0,268.7 142.5,270.9 143.0,271.6 143.5,272.4 144.0,271.1 144.5,269.7 145.0,267.8 145.5,265.9 146.0,265.0 146.5,264.3 147.0,263.9 147.5,264.1 148.0,264.4 148.5,263.9 149.0,263.2 149.5,262.5 150.0,261.6 150.5,260.8 151.0,261.3 151.5,262.3 152.0,263.3 152.5,264.7 153.0,266.1 153.5,266.8 154.0,267.4 154.5,267.8 155.0,267.6 155.0,272.6 154.5,272.9 154.0,272.6 153.5,272.1 153.0,271.5 152.5,270.2 152.0,268.9 151.5,268.0 151.0,267.1 150.5,266.7 150.0,267.6 149.5,268.4 149.0,269.0 148.5,269.6 148.0,270.0 147.5,269.6 147.0,269.3 146.5,269.6 146.0,270.2 145.5,271.0 145.0,272.8 144.5,274.6 144.0,275.9 143.5,277.1 143.0,276.2 142.5,275.4 142.0,273.1 141.5,270.9 141.0,267.4 140.5,263.8 140.0,260.1 139.5,257.0 139.0,254.5 138.5,252.8 138.0,251.9 137.5,251.0 137.0,251.2 136.5,251.3 136.0,252.0 135.5,253.3 135.0,254.5 134.5,255.9 134.0,257.3 133.5,257.6 133.0,256.6 132.5,255.8 132.0,254.5 131.5,253.2 131.0,252.0 130.5,251.6 130.0,251.3 129.5,251.2 129.0,252.0 128.5,252.8 128.0,253.8 127.5,255.4 127.0,257.0 126.5,258.6 126.0,260.1 125.5,261.6 125.0,262.6 124.5,263.7 124.0,263.1 123.5,262.2 123.0,261.0 122.5,259.2 122.0,257.4 121.5,255.9 121.0,254.6 120.5,253.7 120.0,254.8 119.5,255.9 119.0,256.8 118.5,257.7 118.0,258.2 117.5,257.1 117.0,255.9 116.5,254.7 116.0,253.3 115.5,252.1 115.0,251.5 114.5,251.6 114.0,252.4 113.5,253.3 113.0,251.8 112.5,250.4 112.0,248.0 111.5,245.6 111.0,243.8 110.5,242.5 110.0,243.1 109.5,244.5 109.0,246.7 108.5,248.6 108.0,250.4 107.5,251.6 107.0,252.2 106.5,252.8 106.0,255.2 105.5,257.8 105.0,261.1 104.5,263.5 104.0,265.1 103.5,265.8 103.0,265.5 102.5,265.2 102.0,265.1 101.5,265.1 101.0,264.8 100.5,264.4 100.0,264.0 99.5,262.6 99.0,261.2 98.5,258.3 98.0,255.4 97.5,252.3 97.0,249.5 96.5,246.9 96.0,244.4 95.5,242.2 95.0,241.4 94.5,241.9 94.0,242.4 93.5,241.1 93.0,239.9 92.5,238.6 92.0,237.4 91.5,236.8 91.0,236.1 90.5,235.3 90.0,234.5 89.5,232.9 89.0,231.2 88.5,228.8 88.0,226.8 87.5,224.6 87.0,222.6 86.5,220.7 86.0,219.2 85.5,218.1 85.0,217.9 84.5,217.4 84.0,216.9 83.5,216.8 83.0,216.7 82.5,217.0 82.0,217.4 81.5,218.0 81.0,219.8 80.5,221.5 80.0,222.5 79.5,223.3 79.0,224.0 78.5,224.2 78.0,224.4 77.5,227.2 77.0,230.9 76.5,236.0 76.0,239.8 75.5,242.2 75.0,244.6 74.5,245.3 74.0,246.0 73.5,246.2 73.0,245.9 72.5,245.7 72.0,244.8 71.5,243.2 71.0,241.6 70.5,239.4 70.0,237.1 69.5,236.2 69.0,235.4 68.5,234.3 68.0,233.2 67.5,232.0 67.0,230.8 66.5,229.7 66.0,228.6 65.5,229.2 65.0,229.9 64.5,231.6 64.0,233.4 63.5,235.8 63.0,238.8 62.5,241.8 62.0,245.5 61.5,249.2 61.0,250.6 60.5,251.3 60.0,249.2 59.5,247.2 59.0,244.2 58.5,241.1 58.0,240.5 57.5,239.9 57.0,242.1 56.5,244.4 56.0,247.7 55.5,252.0 55.0,255.9 54.5,258.4 54.0,259.7 53.5,260.7 53.0,261.4 52.5,262.4 52.0,263.6 51.5,265.4 51.0,267.2 50.5,269.5 50.0,271.8 49.5,273.1 49.0,274.4 48.5,275.7 48.0,277.0 47.5,278.2 47.0,279.3 46.5,280.1 46.0,279.9 45.5,279.2 45.0,278.1 44.5,277.3 44.0,276.7 43.5,276.9 43.0,278.0 42.5,279.9 42.0,282.0 41.5,280.8 41.0,279.5 40.5,278.9 40.0,278.9 39.5,278.9 39.0,278.9 38.5,278.8 38.0,278.6 37.5,278.5 37.0,278.2 36.5,277.9 36.0,277.6 35.5,277.9 35.0,278.1 34.5,278.9 34.0,280.1 33.5,281.3 33.0,282.4 32.5,283.4 32.0,284.1 31.5,284.3 31.0,284.6" fill="#d4d4d4"/>
<path d="M42.32 298.50V186.50M70.61 298.50V186.50M98.91 298.50V186.50M127.20 298.50V186.50M155.50 298.50V186.50M31.00 283.40H155.50M31.00 267.25H155.50M31.00 251.10H155.50M31.00 234.95H155.50M31.00 218.80H155.50M31.00 202.65H155.50M31.00 186.50H155.50" stroke="#000" stroke-width="0.75" stroke-dasharray="2.02 1.065" fill="none"/>
<polyline clip-path="url(#clipE)" points="31.0,283.1 32.2,282.2 33.5,279.4 34.8,276.2 36.0,275.6 37.5,276.5 39.1,276.9 40.8,276.9 42.0,280.0 42.9,276.2 43.8,274.4 44.8,275.6 45.8,277.8 46.6,278.1 47.5,276.2 48.8,273.1 50.0,269.8 51.0,265.0 52.0,261.2 52.9,259.0 53.8,257.8 54.8,255.0 55.4,250.0 56.2,242.5 57.5,236.9 58.5,238.1 59.4,243.8 60.6,248.8 61.5,246.2 62.5,238.8 63.8,231.2 65.0,226.9 66.0,225.6 67.2,228.1 68.8,231.2 70.0,233.1 71.0,237.5 72.2,241.2 73.8,241.9 75.0,240.0 76.2,233.8 77.1,225.0 77.9,219.5 79.1,218.1 80.4,215.0 81.6,210.0 82.9,208.1 84.1,207.5 85.4,208.1 86.2,210.6 87.2,215.0 88.2,220.0 89.1,225.0 90.0,229.0 91.2,232.5 92.8,236.2 94.0,239.4 95.2,238.1 96.2,242.5 97.2,247.5 98.1,252.5 99.0,257.5 100.0,260.0 101.2,261.0 102.5,261.2 103.8,261.9 104.8,258.8 105.6,253.1 106.5,248.8 107.8,247.2 108.8,243.8 109.8,239.4 110.6,238.5 111.5,241.9 112.5,246.9 113.5,250.0 114.8,248.1 115.6,249.4 116.9,253.1 118.1,256.0 119.4,254.0 120.6,251.5 121.9,255.0 123.1,259.4 124.4,261.9 125.6,259.4 126.9,255.3 128.1,251.5 129.6,249.0 131.0,250.0 132.5,253.8 133.8,256.0 135.0,252.5 136.2,249.4 137.5,249.0 138.8,251.2 139.8,256.2 140.6,262.5 141.5,268.8 142.5,273.1 143.5,274.8 144.4,272.5 145.6,268.1 146.9,266.5 148.1,267.2 149.4,265.6 150.6,263.5 151.9,265.6 153.1,268.8 154.4,270.0 155.4,269.4" fill="none" stroke="#111" stroke-width="1.7" stroke-linejoin="round" stroke-linecap="butt"/>
<rect x="31.0" y="186.5" width="124.5" height="112.0" fill="none" stroke="#000" stroke-width="0.78"/>
<path d="M42.32 298.50v2.5M70.61 298.50v2.5M98.91 298.50v2.5M127.20 298.50v2.5M155.50 298.50v2.5M31.00 283.40h-2.5M31.00 267.25h-2.5M31.00 251.10h-2.5M31.00 234.95h-2.5M31.00 218.80h-2.5M31.00 202.65h-2.5M31.00 186.50h-2.5" stroke="#000" stroke-width="0.72" fill="none"/>
<clipPath id="clipF"><rect x="205.0" y="186.5" width="124.5" height="112.0"/></clipPath>
<polygon clip-path="url(#clipF)" points="205.0,272.5 205.5,274.5 206.0,278.5 206.5,278.1 207.0,276.7 207.5,275.3 208.0,274.2 208.5,273.0 209.0,271.9 209.5,271.5 210.0,271.1 210.5,270.6 211.0,270.1 211.5,269.5 212.0,268.9 212.5,268.0 213.0,266.7 213.5,265.4 214.0,264.4 214.5,264.5 215.0,264.7 215.5,265.9 216.0,267.1 216.5,268.4 217.0,269.7 217.5,271.2 218.0,272.7 218.5,273.8 219.0,274.4 219.5,274.8 220.0,274.7 220.5,274.3 221.0,274.9 221.5,275.5 222.0,275.9 222.5,276.4 223.0,274.9 223.5,272.3 224.0,268.7 224.5,263.4 225.0,258.3 225.5,254.7 226.0,251.0 226.5,249.3 227.0,247.5 227.5,245.7 228.0,243.8 228.5,240.8 229.0,238.0 229.5,235.9 230.0,234.8 230.5,233.8 231.0,233.7 231.5,233.5 232.0,233.1 232.5,232.9 233.0,232.6 233.5,231.8 234.0,230.4 234.5,229.0 235.0,226.8 235.5,224.7 236.0,222.9 236.5,221.6 237.0,220.2 237.5,219.8 238.0,219.2 238.5,218.8 239.0,218.4 239.5,218.0 240.0,216.4 240.5,215.2 241.0,213.7 241.5,212.1 242.0,212.1 242.5,212.5 243.0,214.3 243.5,217.2 244.0,221.2 244.5,226.0 245.0,232.0 245.5,238.8 246.0,242.1 246.5,245.1 247.0,246.3 247.5,246.3 248.0,245.2 248.5,242.8 249.0,240.0 249.5,237.7 250.0,235.3 250.5,234.2 251.0,233.1 251.5,233.7 252.0,234.4 252.5,235.3 253.0,235.4 253.5,234.7 254.0,233.3 254.5,231.2 255.0,228.8 255.5,225.8 256.0,222.7 256.5,220.1 257.0,217.5 257.5,215.2 258.0,213.9 258.5,214.4 259.0,216.2 259.5,219.1 260.0,223.1 260.5,227.5 261.0,232.1 261.5,235.8 262.0,238.3 262.5,237.6 263.0,236.9 263.5,236.2 264.0,235.5 264.5,234.9 265.0,234.6 265.5,234.3 266.0,234.0 266.5,233.5 267.0,233.1 267.5,233.0 268.0,233.4 268.5,233.8 269.0,236.5 269.5,239.0 270.0,240.4 270.5,241.1 271.0,241.3 271.5,241.6 272.0,240.9 272.5,240.2 273.0,239.3 273.5,238.4 274.0,237.5 274.5,235.3 275.0,233.2 275.5,230.8 276.0,228.4 276.5,226.5 277.0,225.1 277.5,225.1 278.0,226.0 278.5,228.8 279.0,232.2 279.5,236.4 280.0,240.1 280.5,241.8 281.0,243.6 281.5,244.7 282.0,245.5 282.5,246.2 283.0,246.0 283.5,245.8 284.0,246.6 284.5,247.6 285.0,249.0 285.5,252.2 286.0,255.1 286.5,257.6 287.0,259.7 287.5,261.2 288.0,262.4 288.5,263.4 289.0,264.2 289.5,264.8 290.0,265.2 290.5,265.8 291.0,266.4 291.5,267.0 292.0,265.9 292.5,264.8 293.0,263.3 293.5,262.9 294.0,263.6 294.5,264.3 295.0,265.0 295.5,265.8 296.0,264.8 296.5,263.9 297.0,262.7 297.5,261.6 298.0,261.2 298.5,261.6 299.0,262.0 299.5,262.6 300.0,263.2 300.5,262.9 301.0,261.8 301.5,260.8 302.0,258.2 302.5,255.8 303.0,253.5 303.5,251.2 304.0,249.4 304.5,247.9 305.0,246.4 305.5,244.2 306.0,242.0 306.5,237.9 307.0,233.8 307.5,231.4 308.0,229.0 308.5,230.1 309.0,231.2 309.5,232.9 310.0,234.6 310.5,235.6 311.0,233.5 311.5,231.4 312.0,229.0 312.5,226.5 313.0,229.5 313.5,234.7 314.0,241.9 314.5,248.5 315.0,252.2 315.5,256.0 316.0,258.2 316.5,259.8 317.0,261.6 317.5,263.6 318.0,265.5 318.5,267.2 319.0,268.8 319.5,270.2 320.0,270.9 320.5,271.5 321.0,271.7 321.5,271.9 322.0,272.3 322.5,274.1 323.0,275.8 323.5,275.9 324.0,275.5 324.5,274.8 325.0,273.6 325.5,272.3 326.0,272.4 326.5,272.9 327.0,273.2 327.5,273.1 328.0,273.0 328.5,272.7 329.0,272.3 329.0,278.3 328.5,278.8 328.0,279.2 327.5,279.4 327.0,279.6 326.5,279.4 326.0,279.0 325.5,279.0 325.0,280.4 324.5,281.7 324.0,282.5 323.5,283.0 323.0,283.1 322.5,281.5 322.0,279.9 321.5,279.6 321.0,279.6 320.5,279.5 320.0,279.0 319.5,278.5 319.0,277.2 318.5,275.8 318.0,274.2 317.5,272.4 317.0,270.6 316.5,269.3 316.0,268.2 315.5,266.5 315.0,263.2 314.5,260.0 314.0,253.9 313.5,247.2 313.0,242.5 312.5,239.5 312.0,242.0 311.5,244.4 311.0,246.5 310.5,248.6 310.0,247.6 309.5,245.7 309.0,243.8 308.5,242.4 308.0,241.0 307.5,243.1 307.0,245.2 306.5,249.1 306.0,253.0 305.5,254.8 305.0,256.6 304.5,257.6 304.0,258.7 303.5,260.2 303.0,262.0 302.5,263.8 302.0,265.9 301.5,268.0 301.0,268.6 300.5,269.3 300.0,269.2 299.5,268.6 299.0,268.0 298.5,267.6 298.0,267.2 297.5,267.6 297.0,268.7 296.5,269.9 296.0,270.8 295.5,271.8 295.0,271.0 294.5,270.3 294.0,269.6 293.5,268.9 293.0,269.3 292.5,270.8 292.0,271.9 291.5,273.0 291.0,272.4 290.5,271.8 290.0,271.2 289.5,270.9 289.0,270.5 288.5,269.7 288.0,268.9 287.5,267.9 287.0,266.4 286.5,264.5 286.0,262.1 285.5,259.6 285.0,256.7 284.5,255.7 284.0,255.1 283.5,254.7 283.0,255.2 282.5,255.8 282.0,255.5 281.5,255.2 281.0,254.6 280.5,253.3 280.0,252.1 279.5,248.9 279.0,245.2 278.5,242.3 278.0,240.0 277.5,239.6 277.0,240.1 276.5,241.4 276.0,243.1 275.5,245.3 275.0,247.5 274.5,249.5 274.0,251.5 273.5,252.4 273.0,253.3 272.5,254.2 272.0,254.9 271.5,255.6 271.0,255.3 270.5,255.1 270.0,254.4 269.5,253.5 269.0,251.5 268.5,249.3 268.0,249.4 267.5,249.5 267.0,250.1 266.5,251.0 266.0,252.0 265.5,252.4 265.0,252.9 264.5,253.3 264.0,254.0 263.5,254.9 263.0,255.7 262.5,256.5 262.0,257.3 261.5,254.9 261.0,251.4 260.5,246.8 260.0,242.6 259.5,238.8 259.0,236.0 258.5,234.3 258.0,233.9 257.5,235.0 257.0,237.2 256.5,239.6 256.0,242.1 255.5,245.0 255.0,247.8 254.5,249.7 254.0,251.3 253.5,252.2 253.0,252.4 252.5,251.8 252.0,250.4 251.5,249.2 251.0,248.1 250.5,248.7 250.0,249.3 249.5,251.2 249.0,253.0 248.5,256.2 248.0,259.2 247.5,260.8 247.0,261.3 246.5,260.6 246.0,258.1 245.5,255.4 245.0,249.3 244.5,244.0 244.0,239.8 243.5,236.6 243.0,234.3 242.5,233.0 242.0,233.1 241.5,233.6 241.0,235.7 240.5,237.7 240.0,239.4 239.5,241.1 239.0,241.7 238.5,242.2 238.0,242.8 237.5,243.4 237.0,244.0 236.5,245.5 236.0,246.9 235.5,248.6 235.0,250.6 234.5,252.6 234.0,253.9 233.5,255.2 233.0,255.9 232.5,256.0 232.0,256.1 231.5,255.5 231.0,254.7 230.5,253.8 230.0,253.8 229.5,253.9 229.0,255.0 228.5,256.8 228.0,258.8 227.5,259.8 227.0,260.8 226.5,261.6 226.0,262.5 225.5,265.3 225.0,268.1 224.5,272.2 224.0,276.7 223.5,280.2 223.0,282.7 222.5,284.0 222.0,283.4 221.5,282.9 221.0,282.1 220.5,281.4 220.0,281.7 219.5,281.9 219.0,281.6 218.5,281.1 218.0,280.1 217.5,278.7 217.0,277.3 216.5,276.1 216.0,274.9 215.5,273.8 215.0,272.7 214.5,272.3 214.0,272.0 213.5,272.8 213.0,273.9 212.5,275.0 212.0,275.7 211.5,276.1 211.0,276.5 210.5,276.8 210.0,277.1 209.5,277.3 209.0,277.5 208.5,278.4 208.0,279.4 207.5,280.3 207.0,281.5 206.5,282.7 206.0,282.9 205.5,278.7 205.0,276.5" fill="#d4d4d4"/>
<path d="M216.32 298.50V186.50M244.61 298.50V186.50M272.91 298.50V186.50M301.20 298.50V186.50M329.50 298.50V186.50M205.00 285.40H329.50M205.00 266.80H329.50M205.00 248.20H329.50M205.00 229.60H329.50M205.00 211.00H329.50M205.00 192.40H329.50" stroke="#000" stroke-width="0.75" stroke-dasharray="2.02 1.065" fill="none"/>
<polyline clip-path="url(#clipF)" points="205.0,274.5 205.4,275.8 206.1,281.5 207.4,278.0 209.0,274.7 210.7,273.6 212.3,272.0 213.9,268.1 215.0,268.7 216.7,272.5 218.3,276.9 219.4,278.0 220.5,277.4 221.6,279.0 222.7,280.2 223.8,274.7 224.9,263.8 226.0,256.5 227.2,253.1 228.1,250.5 228.8,247.0 229.4,244.5 230.5,243.3 231.8,244.2 233.2,243.8 234.5,240.6 235.8,235.6 237.0,232.2 238.2,231.0 239.5,230.0 240.5,226.9 241.5,223.1 242.4,222.5 243.2,225.0 244.2,231.9 244.9,238.8 245.5,246.2 246.5,251.9 247.2,253.5 248.1,251.2 249.0,246.0 250.0,242.0 251.0,240.4 251.9,242.2 252.8,244.2 253.8,243.5 254.9,239.4 256.1,232.5 257.4,226.2 258.2,224.4 259.2,227.5 260.2,235.0 261.1,242.5 261.9,247.5 263.1,245.5 264.4,243.4 266.0,242.0 267.2,240.2 268.5,240.6 269.4,245.0 270.2,247.0 271.5,248.0 272.8,246.5 274.0,244.5 275.0,240.5 276.2,235.0 277.2,232.5 278.1,233.5 279.0,239.0 279.9,246.0 281.1,249.5 282.4,251.0 283.6,250.0 284.9,251.9 285.8,256.9 286.8,261.9 287.8,265.0 289.0,267.2 290.2,268.5 291.5,270.0 292.4,268.1 293.2,265.6 294.2,266.9 295.5,268.8 296.5,266.9 297.8,264.0 299.0,265.0 300.2,266.5 301.5,264.5 302.5,260.0 303.8,255.0 305.0,251.9 306.0,248.0 307.0,240.0 308.0,235.5 309.0,238.0 310.4,243.0 311.6,238.0 312.6,233.0 313.4,240.0 314.4,254.0 315.6,262.5 316.9,266.2 318.1,270.6 319.4,274.4 320.6,275.6 321.9,275.6 323.1,279.4 324.4,278.1 325.6,275.0 326.9,276.2 328.1,276.0 329.4,275.0" fill="none" stroke="#111" stroke-width="1.7" stroke-linejoin="round" stroke-linecap="butt"/>
<rect x="205.0" y="186.5" width="124.5" height="112.0" fill="none" stroke="#000" stroke-width="0.78"/>
<path d="M216.32 298.50v2.5M244.61 298.50v2.5M272.91 298.50v2.5M301.20 298.50v2.5M329.50 298.50v2.5M205.00 285.40h-2.5M205.00 266.80h-2.5M205.00 248.20h-2.5M205.00 229.60h-2.5M205.00 211.00h-2.5M205.00 192.40h-2.5" stroke="#000" stroke-width="0.72" fill="none"/>
<clipPath id="clipG"><rect x="379.0" y="186.5" width="124.5" height="112.0"/></clipPath>
<polygon clip-path="url(#clipG)" points="379.0,274.2 379.5,274.9 380.0,275.6 380.5,276.2 381.0,276.9 381.5,277.6 382.0,275.7 382.5,273.9 383.0,272.3 383.5,271.0 384.0,269.7 384.5,270.7 385.0,271.8 385.5,273.7 386.0,275.6 386.5,277.0 387.0,278.1 387.5,279.1 388.0,279.7 388.5,280.2 389.0,280.6 389.5,280.9 390.0,281.2 390.5,278.9 391.0,276.8 391.5,275.7 392.0,276.0 392.5,277.6 393.0,279.5 393.5,281.8 394.0,283.6 394.5,285.2 395.0,286.8 395.5,287.4 396.0,288.1 396.5,288.2 397.0,287.7 397.5,287.1 398.0,286.4 398.5,285.7 399.0,285.6 399.5,285.9 400.0,286.2 400.5,285.9 401.0,285.6 401.5,284.5 402.0,282.4 402.5,280.4 403.0,278.1 403.5,275.8 404.0,275.1 404.5,276.1 405.0,277.0 405.5,279.5 406.0,282.0 406.5,283.9 407.0,285.8 407.5,285.1 408.0,284.5 408.5,282.0 409.0,279.5 409.5,277.7 410.0,276.0 410.5,274.9 411.0,274.4 411.5,273.9 412.0,272.9 412.5,271.9 413.0,268.4 413.5,264.8 414.0,261.0 414.5,257.5 415.0,254.3 415.5,250.2 416.0,245.3 416.5,240.9 417.0,236.5 417.5,231.6 418.0,228.3 418.5,226.4 419.0,228.0 419.5,229.7 420.0,231.7 420.5,232.5 421.0,232.1 421.5,230.1 422.0,226.9 422.5,223.3 423.0,219.2 423.5,216.0 424.0,213.0 424.5,212.4 425.0,211.8 425.5,212.9 426.0,214.6 426.5,218.3 427.0,217.9 427.5,216.6 428.0,214.4 428.5,212.2 429.0,211.7 429.5,211.4 430.0,212.7 430.5,213.7 431.0,214.4 431.5,215.2 432.0,215.9 432.5,216.9 433.0,217.7 433.5,218.4 434.0,219.0 434.5,218.8 435.0,218.6 435.5,218.4 436.0,218.1 436.5,219.5 437.0,221.5 437.5,223.5 438.0,226.1 438.5,228.6 439.0,231.3 439.5,234.0 440.0,237.5 440.5,240.2 441.0,241.1 441.5,242.1 442.0,241.3 442.5,240.4 443.0,241.0 443.5,243.0 444.0,246.4 444.5,250.0 445.0,253.9 445.5,257.8 446.0,260.1 446.5,258.7 447.0,256.5 447.5,252.9 448.0,249.4 448.5,248.3 449.0,247.2 449.5,246.1 450.0,245.3 450.5,244.5 451.0,243.7 451.5,243.0 452.0,241.8 452.5,240.3 453.0,238.2 453.5,235.6 454.0,234.8 454.5,234.5 455.0,236.4 455.5,238.2 456.0,239.8 456.5,241.2 457.0,242.6 457.5,243.9 458.0,245.1 458.5,246.1 459.0,247.1 459.5,247.4 460.0,247.2 460.5,245.9 461.0,243.9 461.5,241.4 462.0,238.5 462.5,235.6 463.0,232.5 463.5,230.2 464.0,228.9 464.5,227.8 465.0,226.8 465.5,225.4 466.0,223.4 466.5,221.4 467.0,219.3 467.5,217.5 468.0,216.8 468.5,216.8 469.0,217.8 469.5,218.8 470.0,219.8 470.5,219.8 471.0,219.6 471.5,219.3 472.0,218.9 472.5,218.7 473.0,218.7 473.5,219.7 474.0,220.7 474.5,221.3 475.0,221.7 475.5,221.7 476.0,220.2 476.5,217.4 477.0,214.0 477.5,209.9 478.0,206.1 478.5,202.1 479.0,197.4 479.5,194.0 480.0,192.3 480.5,193.2 481.0,194.5 481.5,196.0 482.0,198.6 482.5,201.5 483.0,204.8 483.5,208.2 484.0,212.0 484.5,214.7 485.0,216.7 485.5,217.0 486.0,217.4 486.5,219.9 487.0,226.2 487.5,232.5 488.0,238.7 488.5,244.6 489.0,250.5 489.5,257.4 490.0,262.1 490.5,264.7 491.0,266.0 491.5,267.2 492.0,268.8 492.5,270.3 493.0,272.0 493.5,273.7 494.0,275.5 494.5,275.9 495.0,276.3 495.5,276.4 496.0,276.2 496.5,276.1 497.0,277.7 497.5,279.3 498.0,281.5 498.5,284.1 499.0,285.5 499.5,286.5 500.0,285.3 500.5,284.1 501.0,281.9 501.5,279.8 502.0,278.8 502.5,277.9 503.0,277.6 503.0,281.6 502.5,281.9 502.0,283.0 501.5,284.0 501.0,286.2 500.5,288.4 500.0,289.7 499.5,291.0 499.0,290.0 498.5,288.7 498.0,286.1 497.5,284.1 497.0,282.5 496.5,280.9 496.0,281.2 495.5,281.4 495.0,281.4 494.5,281.0 494.0,280.7 493.5,279.0 493.0,277.3 492.5,275.7 492.0,274.2 491.5,272.8 491.0,271.6 490.5,270.4 490.0,267.9 489.5,263.2 489.0,256.4 488.5,250.5 488.0,244.7 487.5,239.1 487.0,233.5 486.5,227.8 486.0,225.9 485.5,226.1 485.0,226.4 484.5,225.1 484.0,223.0 483.5,220.0 483.0,217.2 482.5,214.8 482.0,212.6 481.5,210.8 481.0,210.0 480.5,209.5 480.0,209.3 479.5,210.5 479.0,213.4 478.5,217.6 478.0,221.1 477.5,224.5 477.0,228.2 476.5,231.2 476.0,233.7 475.5,234.8 475.0,234.4 474.5,233.7 474.0,232.7 473.5,231.7 473.0,230.7 472.5,230.7 472.0,230.9 471.5,231.3 471.0,231.6 470.5,231.8 470.0,231.8 469.5,230.8 469.0,229.8 468.5,228.8 468.0,228.8 467.5,229.5 467.0,231.3 466.5,233.4 466.0,235.4 465.5,236.7 465.0,237.5 464.5,237.8 464.0,238.3 463.5,238.8 463.0,240.5 462.5,243.6 462.0,246.5 461.5,249.4 461.0,251.9 460.5,253.9 460.0,255.2 459.5,255.4 459.0,255.1 458.5,254.1 458.0,253.1 457.5,251.9 457.0,250.6 456.5,249.2 456.0,247.8 455.5,246.2 455.0,244.4 454.5,242.4 454.0,242.6 453.5,243.3 453.0,245.8 452.5,247.8 452.0,249.2 451.5,250.3 451.0,250.9 450.5,251.6 450.0,252.3 449.5,252.9 449.0,253.7 448.5,254.5 448.0,255.4 447.5,258.7 447.0,262.0 446.5,264.0 446.0,265.1 445.5,263.2 445.0,259.6 444.5,256.0 444.0,252.7 443.5,249.7 443.0,248.0 442.5,247.8 442.0,248.9 441.5,250.1 441.0,249.5 440.5,248.8 440.0,246.5 439.5,244.5 439.0,243.3 438.5,242.1 438.0,241.1 437.5,240.0 437.0,239.5 436.5,239.0 436.0,239.1 435.5,239.7 435.0,240.3 434.5,240.9 434.0,241.5 433.5,241.2 433.0,241.0 432.5,240.5 432.0,239.9 431.5,239.2 431.0,238.4 430.5,237.7 430.0,236.7 429.5,235.4 429.0,235.7 428.5,236.2 428.0,238.4 427.5,238.8 427.0,238.3 426.5,236.8 426.0,231.3 425.5,227.8 425.0,224.8 424.5,225.0 424.0,225.2 423.5,227.9 423.0,230.7 422.5,234.4 422.0,237.7 421.5,240.5 421.0,242.1 420.5,242.3 420.0,241.4 419.5,239.2 419.0,237.4 418.5,235.6 418.0,237.3 417.5,240.3 417.0,245.0 416.5,249.1 416.0,253.3 415.5,258.0 415.0,261.8 414.5,264.8 414.0,268.0 413.5,271.5 413.0,274.9 412.5,278.2 412.0,278.9 411.5,279.8 411.0,280.2 410.5,280.6 410.0,281.7 409.5,283.4 409.0,285.1 408.5,287.5 408.0,289.9 407.5,290.5 407.0,291.0 406.5,289.1 406.0,287.1 405.5,284.6 405.0,282.0 404.5,281.0 404.0,280.0 403.5,280.6 403.0,282.9 402.5,285.1 402.0,287.1 401.5,289.1 401.0,290.2 400.5,290.5 400.0,290.8 399.5,290.4 399.0,289.9 398.5,290.1 398.0,290.7 397.5,291.4 397.0,291.9 396.5,292.4 396.0,292.2 395.5,291.5 395.0,290.8 394.5,289.2 394.0,287.8 393.5,285.9 393.0,283.7 392.5,281.8 392.0,280.3 391.5,280.1 391.0,281.2 390.5,283.3 390.0,285.8 389.5,285.5 389.0,285.2 388.5,284.9 388.0,284.4 387.5,283.9 387.0,282.9 386.5,281.9 386.0,280.5 385.5,278.6 385.0,276.8 384.5,275.6 384.0,274.5 383.5,275.7 383.0,277.0 382.5,278.5 382.0,280.2 381.5,282.0 381.0,281.2 380.5,280.5 380.0,279.7 379.5,279.0 379.0,278.2" fill="#d4d4d4"/>
<path d="M390.32 298.50V186.50M418.61 298.50V186.50M446.91 298.50V186.50M475.20 298.50V186.50M503.50 298.50V186.50M379.00 291.05H503.50M379.00 260.40H503.50M379.00 229.75H503.50M379.00 199.10H503.50" stroke="#000" stroke-width="0.75" stroke-dasharray="2.02 1.065" fill="none"/>
<polyline clip-path="url(#clipG)" points="379.0,276.2 380.2,278.1 381.5,280.0 382.8,275.6 384.0,272.5 385.0,274.8 386.2,279.4 387.5,281.9 388.8,283.1 390.0,283.8 390.9,279.4 391.8,277.5 392.8,280.6 393.8,285.0 395.0,288.8 396.2,290.6 397.5,289.4 398.8,287.8 400.0,288.8 401.2,288.1 402.5,283.1 403.8,277.5 405.0,280.0 406.0,285.0 407.0,288.8 408.0,287.5 409.0,282.5 410.2,278.1 411.5,276.9 412.5,275.0 413.4,268.8 414.2,262.5 415.2,256.2 416.1,248.0 416.9,241.2 417.8,233.1 418.5,230.6 419.4,233.8 420.2,237.5 421.2,236.9 422.2,231.2 423.1,225.0 424.0,220.2 425.0,219.8 425.9,222.5 426.6,228.1 427.5,226.2 428.5,222.5 429.4,221.9 430.2,224.4 431.5,226.9 432.8,229.4 434.0,231.0 435.0,230.6 436.2,230.0 437.5,232.5 438.5,235.6 439.5,239.0 440.5,244.0 441.5,245.6 442.8,243.1 443.6,246.2 444.5,252.5 445.5,260.0 446.1,262.5 447.0,258.8 448.0,251.9 449.2,249.4 450.5,247.5 451.8,245.6 452.8,242.5 453.6,238.1 454.5,237.5 455.5,241.2 456.8,245.0 458.0,248.1 459.2,250.6 460.2,250.0 461.2,246.2 462.4,240.0 463.2,235.0 464.2,233.6 465.2,232.6 466.1,230.0 466.9,226.6 467.6,224.0 468.4,223.6 469.1,225.1 470.1,227.0 471.1,226.6 472.0,225.9 472.9,225.5 473.6,227.0 474.6,228.9 475.4,230.0 476.1,228.5 476.9,224.0 477.6,218.8 478.4,213.5 478.9,209.0 479.5,205.5 480.1,204.1 481.4,205.4 482.2,208.5 483.2,213.5 484.2,219.5 485.1,222.2 485.9,221.5 486.5,224.0 487.0,230.0 487.8,238.8 488.6,248.8 489.3,257.0 489.6,262.0 490.2,266.9 491.5,270.0 492.8,273.8 494.0,278.1 495.2,279.0 496.5,278.5 497.8,282.5 498.6,286.9 499.5,288.8 500.5,286.2 501.5,281.9 502.8,279.4 503.4,280.0" fill="none" stroke="#111" stroke-width="1.7" stroke-linejoin="round" stroke-linecap="butt"/>
<rect x="379.0" y="186.5" width="124.5" height="112.0" fill="none" stroke="#000" stroke-width="0.78"/>
<path d="M390.32 298.50v2.5M418.61 298.50v2.5M446.91 298.50v2.5M475.20 298.50v2.5M503.50 298.50v2.5M379.00 291.05h-2.5M379.00 260.40h-2.5M379.00 229.75h-2.5M379.00 199.10h-2.5" stroke="#000" stroke-width="0.72" fill="none"/>
<clipPath id="clipH"><rect x="553.0" y="186.5" width="124.5" height="112.0"/></clipPath>
<polygon clip-path="url(#clipH)" points="553.0,272.4 553.5,272.8 554.0,273.2 554.5,273.3 555.0,273.2 555.5,273.0 556.0,272.6 556.5,272.5 557.0,273.1 557.5,273.8 558.0,274.8 558.5,275.8 559.0,276.6 559.5,277.1 560.0,277.6 560.5,277.7 561.0,277.6 561.5,277.4 562.0,278.1 562.5,279.1 563.0,281.5 563.5,284.4 564.0,286.7 564.5,288.7 565.0,288.9 565.5,288.9 566.0,288.1 566.5,287.2 567.0,286.0 567.5,284.9 568.0,283.8 568.5,282.8 569.0,281.8 569.5,281.3 570.0,281.0 570.5,280.6 571.0,281.1 571.5,281.6 572.0,282.3 572.5,283.0 573.0,283.8 573.5,284.4 574.0,285.0 574.5,284.9 575.0,284.0 575.5,283.0 576.0,281.7 576.5,280.5 577.0,279.5 577.5,279.0 578.0,278.6 578.5,278.4 579.0,278.7 579.5,279.0 580.0,279.4 580.5,279.8 581.0,279.7 581.5,278.8 582.0,277.3 582.5,274.6 583.0,271.8 583.5,268.8 584.0,265.2 584.5,261.4 585.0,257.2 585.5,253.1 586.0,251.7 586.5,250.4 587.0,250.2 587.5,251.4 588.0,252.6 588.5,254.0 589.0,255.5 589.5,254.3 590.0,252.9 590.5,250.2 591.0,247.4 591.5,244.5 592.0,241.4 592.5,238.3 593.0,235.2 593.5,232.1 594.0,229.4 594.5,227.2 595.0,225.2 595.5,223.6 596.0,222.1 596.5,220.2 597.0,218.2 597.5,216.2 598.0,214.0 598.5,211.8 599.0,209.8 599.5,207.9 600.0,206.0 600.5,204.3 601.0,202.7 601.5,201.2 602.0,200.1 602.5,198.9 603.0,199.2 603.5,199.5 604.0,200.8 604.5,202.0 605.0,202.8 605.5,202.0 606.0,199.4 606.5,196.8 607.0,193.9 607.5,191.6 608.0,189.8 608.5,191.0 609.0,192.7 609.5,196.3 610.0,199.9 610.5,203.5 611.0,207.3 611.5,210.7 612.0,213.7 612.5,216.8 613.0,219.0 613.5,221.2 614.0,222.9 614.5,224.6 615.0,225.3 615.5,225.9 616.0,226.8 616.5,227.8 617.0,229.8 617.5,232.2 618.0,235.7 618.5,238.7 619.0,241.6 619.5,243.5 620.0,245.5 620.5,246.0 621.0,246.0 621.5,244.5 622.0,242.7 622.5,240.0 623.0,238.3 623.5,237.6 624.0,238.0 624.5,239.4 625.0,240.5 625.5,241.0 626.0,240.2 626.5,238.9 627.0,236.5 627.5,234.1 628.0,231.1 628.5,228.1 629.0,229.0 629.5,230.1 630.0,232.5 630.5,234.2 631.0,235.0 631.5,232.9 632.0,230.6 632.5,227.3 633.0,225.0 633.5,223.7 634.0,223.3 634.5,223.6 635.0,223.4 635.5,222.6 636.0,221.4 636.5,220.0 637.0,219.1 637.5,218.2 638.0,218.8 638.5,219.4 639.0,220.7 639.5,222.6 640.0,224.2 640.5,225.4 641.0,224.6 641.5,223.2 642.0,221.8 642.5,220.3 643.0,219.4 643.5,218.5 644.0,219.2 644.5,220.1 645.0,221.7 645.5,222.9 646.0,223.6 646.5,224.0 647.0,224.1 647.5,223.9 648.0,223.4 648.5,222.4 649.0,223.5 649.5,224.9 650.0,227.6 650.5,229.2 651.0,229.7 651.5,227.1 652.0,224.1 652.5,219.5 653.0,215.8 653.5,214.6 654.0,215.7 654.5,219.6 655.0,225.4 655.5,231.1 656.0,236.7 656.5,241.7 657.0,246.7 657.5,250.4 658.0,251.2 658.5,252.0 659.0,252.1 659.5,252.2 660.0,252.5 660.5,252.9 661.0,253.3 661.5,254.9 662.0,256.6 662.5,258.8 663.0,260.7 663.5,262.5 664.0,263.8 664.5,264.6 665.0,264.4 665.5,263.4 666.0,262.5 666.5,261.6 667.0,262.6 667.5,263.6 668.0,265.9 668.5,268.2 669.0,269.8 669.5,271.4 670.0,272.1 670.5,271.9 671.0,271.6 671.5,270.4 672.0,269.1 672.5,268.2 673.0,267.8 673.5,267.2 674.0,268.2 674.5,269.2 675.0,270.4 675.5,271.6 676.0,272.9 676.5,273.9 677.0,274.8 677.0,282.8 676.5,281.9 676.0,280.9 675.5,279.6 675.0,278.4 674.5,277.2 674.0,276.2 673.5,275.2 673.0,275.8 672.5,276.2 672.0,277.1 671.5,278.4 671.0,279.6 670.5,279.9 670.0,280.1 669.5,279.5 669.0,278.0 668.5,276.5 668.0,274.3 667.5,272.1 667.0,271.2 666.5,270.2 666.0,271.3 665.5,272.3 665.0,273.4 664.5,273.5 664.0,272.6 663.5,271.2 663.0,269.3 662.5,267.3 662.0,265.0 661.5,263.2 661.0,261.5 660.5,261.0 660.0,260.5 659.5,260.1 659.0,259.9 658.5,259.6 658.0,258.7 657.5,257.8 657.0,254.0 656.5,248.8 656.0,243.7 655.5,239.1 655.0,234.4 654.5,229.6 654.0,226.7 653.5,226.6 653.0,228.8 652.5,231.9 652.0,235.9 651.5,238.3 651.0,240.2 650.5,239.2 650.0,237.0 649.5,233.7 649.0,231.7 648.5,230.0 648.0,230.4 647.5,231.0 647.0,231.3 646.5,231.3 646.0,231.0 645.5,230.4 645.0,229.3 644.5,227.8 644.0,227.0 643.5,226.4 643.0,227.4 642.5,228.4 642.0,229.9 641.5,231.5 641.0,232.9 640.5,233.8 640.0,232.7 639.5,231.2 639.0,229.3 638.5,228.1 638.0,227.6 637.5,227.1 637.0,228.1 636.5,229.0 636.0,230.4 635.5,231.6 635.0,232.4 634.5,232.6 634.0,232.3 633.5,232.7 633.0,234.0 632.5,236.3 632.0,239.6 631.5,241.9 631.0,244.0 630.5,243.2 630.0,241.5 629.5,238.8 629.0,237.4 628.5,236.2 628.0,238.9 627.5,241.6 627.0,243.7 626.5,245.8 626.0,246.8 625.5,247.3 625.0,246.5 624.5,245.3 624.0,243.8 623.5,243.3 623.0,243.9 622.5,245.5 622.0,248.1 621.5,249.8 621.0,251.2 620.5,251.1 620.0,250.5 619.5,248.6 619.0,246.8 618.5,244.0 618.0,241.1 617.5,237.7 617.0,235.4 616.5,233.5 616.0,232.7 615.5,231.8 615.0,231.3 614.5,230.9 614.0,229.7 613.5,228.4 613.0,226.5 612.5,224.6 612.0,221.9 611.5,219.3 611.0,216.3 610.5,213.3 610.0,210.6 609.5,207.8 609.0,205.1 608.5,204.2 608.0,203.8 607.5,205.6 607.0,207.9 606.5,210.8 606.0,213.4 605.5,216.0 605.0,216.8 604.5,215.2 604.0,213.3 603.5,211.2 603.0,210.2 602.5,209.6 602.0,210.4 601.5,211.2 601.0,212.3 600.5,213.7 600.0,215.0 599.5,216.8 599.0,218.5 598.5,220.4 598.0,222.5 597.5,224.6 597.0,226.5 596.5,228.3 596.0,230.1 595.5,231.6 595.0,233.2 594.5,235.2 594.0,237.4 593.5,240.1 593.0,243.2 592.5,246.3 592.0,249.4 591.5,252.3 591.0,255.0 590.5,257.6 590.0,260.1 589.5,261.3 589.0,262.3 588.5,260.6 588.0,258.9 587.5,257.6 587.0,256.2 586.5,256.1 586.0,257.2 585.5,258.4 585.0,262.2 584.5,266.1 584.0,269.7 583.5,273.0 583.0,275.8 582.5,278.6 582.0,281.3 581.5,282.8 581.0,283.7 580.5,283.8 580.0,283.4 579.5,283.0 579.0,282.7 578.5,282.4 578.0,282.6 577.5,283.0 577.0,283.5 576.5,284.5 576.0,285.7 575.5,287.0 575.0,288.0 574.5,288.9 574.0,289.0 573.5,288.4 573.0,287.8 572.5,287.0 572.0,286.3 571.5,285.6 571.0,285.1 570.5,284.6 570.0,285.0 569.5,285.3 569.0,285.8 568.5,286.8 568.0,287.8 567.5,288.9 567.0,290.0 566.5,291.2 566.0,292.1 565.5,292.9 565.0,292.9 564.5,292.7 564.0,290.7 563.5,288.4 563.0,285.5 562.5,283.1 562.0,282.1 561.5,281.4 561.0,281.6 560.5,281.7 560.0,281.6 559.5,281.1 559.0,280.6 558.5,279.8 558.0,278.8 557.5,277.8 557.0,277.1 556.5,276.5 556.0,276.6 555.5,277.0 555.0,277.2 554.5,277.3 554.0,277.2 553.5,276.8 553.0,276.4" fill="#d4d4d4"/>
<path d="M564.32 298.50V186.50M592.61 298.50V186.50M620.91 298.50V186.50M649.20 298.50V186.50M677.50 298.50V186.50M553.00 285.71H677.50M553.00 256.84H677.50M553.00 227.97H677.50M553.00 199.10H677.50" stroke="#000" stroke-width="0.75" stroke-dasharray="2.02 1.065" fill="none"/>
<polyline clip-path="url(#clipH)" points="553.0,274.4 554.2,275.4 555.5,275.0 556.3,274.3 557.4,275.6 558.8,278.4 560.2,279.8 561.6,279.4 562.6,281.2 563.5,286.4 564.4,290.6 565.4,291.1 566.5,289.2 567.7,286.4 569.1,283.6 570.5,282.6 571.8,283.9 573.1,285.9 574.3,287.3 575.5,285.0 576.8,281.7 578.3,280.3 579.6,281.1 580.8,282.0 581.8,280.3 582.7,275.6 583.6,270.0 584.5,263.8 585.5,255.8 586.8,252.6 588.0,255.8 589.0,258.9 589.9,257.0 590.8,252.6 591.8,247.0 592.8,240.8 593.8,234.5 594.9,229.5 596.1,225.8 597.4,221.0 598.8,215.4 600.0,211.0 601.2,207.2 602.5,204.8 603.5,205.8 604.4,208.5 605.2,210.4 606.2,206.0 607.2,201.0 608.1,198.5 609.0,200.4 609.8,204.8 610.6,209.8 611.5,215.4 612.5,221.0 613.5,225.0 614.5,227.8 615.5,228.8 616.5,230.5 617.4,234.0 618.1,238.8 619.0,243.8 620.0,247.5 620.9,248.5 621.9,245.6 622.8,241.2 623.8,240.0 624.8,243.1 625.6,244.4 626.5,242.5 627.5,238.1 628.5,232.5 629.4,234.4 630.2,238.8 631.0,240.0 631.9,236.2 632.8,230.6 633.8,228.1 634.8,228.8 635.6,227.5 636.5,225.0 637.5,223.1 638.8,224.4 639.8,228.1 640.6,230.0 641.5,227.5 642.5,224.4 643.5,222.5 644.4,223.8 645.2,226.5 646.2,228.0 647.2,228.1 648.5,227.0 649.4,230.0 650.2,235.6 651.0,237.2 651.9,233.8 652.8,226.9 653.8,222.5 654.4,225.6 655.2,233.8 656.2,243.0 656.9,250.0 657.5,254.4 658.5,256.0 659.8,256.2 661.0,257.5 661.9,260.6 662.8,264.4 663.8,268.1 664.8,270.0 665.6,268.1 666.5,266.2 667.5,268.1 668.5,272.5 669.8,276.2 671.0,275.6 672.2,272.5 673.5,271.2 674.8,273.8 676.0,276.9 677.4,279.6" fill="none" stroke="#111" stroke-width="1.7" stroke-linejoin="round" stroke-linecap="butt"/>
<rect x="553.0" y="186.5" width="124.5" height="112.0" fill="none" stroke="#000" stroke-width="0.78"/>
<path d="M564.32 298.50v2.5M592.61 298.50v2.5M620.91 298.50v2.5M649.20 298.50v2.5M677.50 298.50v2.5M553.00 285.71h-2.5M553.00 256.84h-2.5M553.00 227.97h-2.5M553.00 199.10h-2.5" stroke="#000" stroke-width="0.72" fill="none"/>
</g>
<text x="42.32" y="141.00" font-size="8.3" text-anchor="middle" textLength="15.8" lengthAdjust="spacingAndGlyphs">0.00</text>
<text x="70.61" y="141.00" font-size="8.3" text-anchor="middle" textLength="15.8" lengthAdjust="spacingAndGlyphs">0.25</text>
<text x="98.91" y="141.00" font-size="8.3" text-anchor="middle" textLength="15.8" lengthAdjust="spacingAndGlyphs">0.50</text>
<text x="127.20" y="141.00" font-size="8.3" text-anchor="middle" textLength="15.8" lengthAdjust="spacingAndGlyphs">0.75</text>
<text x="155.50" y="141.00" font-size="8.3" text-anchor="middle" textLength="15.8" lengthAdjust="spacingAndGlyphs">1.00</text>
<text x="25.90" y="124.15" font-size="8.3" text-anchor="end" textLength="15.9" lengthAdjust="spacingAndGlyphs">0.00</text>
<text x="25.90" y="98.35" font-size="8.3" text-anchor="end" textLength="15.9" lengthAdjust="spacingAndGlyphs">0.01</text>
<text x="25.90" y="72.25" font-size="8.3" text-anchor="end" textLength="15.9" lengthAdjust="spacingAndGlyphs">0.02</text>
<text x="25.90" y="47.15" font-size="8.3" text-anchor="end" textLength="15.9" lengthAdjust="spacingAndGlyphs">0.03</text>
<text x="25.90" y="21.25" font-size="8.3" text-anchor="end" textLength="15.9" lengthAdjust="spacingAndGlyphs">0.04</text>
<text x="93.25" y="13.50" font-size="9.1" text-anchor="middle" textLength="20.65" lengthAdjust="spacingAndGlyphs">L Vis</text>
<text x="93.25" y="150.30" font-size="8.1" text-anchor="middle" textLength="29.2" lengthAdjust="spacingAndGlyphs">Time (s)</text>
<text transform="translate(5.50,74.25) rotate(-90)" x="0" y="0" font-size="8.0" text-anchor="middle" textLength="26.4" lengthAdjust="spacingAndGlyphs">MI (bis)</text>
<text transform="translate(3.18,9.00) scale(0.92,1)" x="0" y="0" font-size="12.5">A</text>
<text x="216.32" y="141.00" font-size="8.3" text-anchor="middle" textLength="15.8" lengthAdjust="spacingAndGlyphs">0.00</text>
<text x="244.61" y="141.00" font-size="8.3" text-anchor="middle" textLength="15.8" lengthAdjust="spacingAndGlyphs">0.25</text>
<text x="272.91" y="141.00" font-size="8.3" text-anchor="middle" textLength="15.8" lengthAdjust="spacingAndGlyphs">0.50</text>
<text x="301.20" y="141.00" font-size="8.3" text-anchor="middle" textLength="15.8" lengthAdjust="spacingAndGlyphs">0.75</text>
<text x="329.50" y="141.00" font-size="8.3" text-anchor="middle" textLength="15.8" lengthAdjust="spacingAndGlyphs">1.00</text>
<text x="199.90" y="120.15" font-size="8.3" text-anchor="end" textLength="15.9" lengthAdjust="spacingAndGlyphs">0.00</text>
<text x="199.90" y="90.05" font-size="8.3" text-anchor="end" textLength="15.9" lengthAdjust="spacingAndGlyphs">0.01</text>
<text x="199.90" y="60.15" font-size="8.3" text-anchor="end" textLength="15.9" lengthAdjust="spacingAndGlyphs">0.02</text>
<text x="199.90" y="30.25" font-size="8.3" text-anchor="end" textLength="15.9" lengthAdjust="spacingAndGlyphs">0.03</text>
<text x="267.25" y="13.50" font-size="9.1" text-anchor="middle" textLength="21.84" lengthAdjust="spacingAndGlyphs">R Vis</text>
<text x="267.25" y="150.30" font-size="8.1" text-anchor="middle" textLength="29.2" lengthAdjust="spacingAndGlyphs">Time (s)</text>
<text transform="translate(179.10,74.25) rotate(-90)" x="0" y="0" font-size="8.0" text-anchor="middle" textLength="26.4" lengthAdjust="spacingAndGlyphs">MI (bis)</text>
<text transform="translate(176.96,9.00) scale(0.91,1)" x="0" y="0" font-size="12.5">B</text>
<text x="390.32" y="141.00" font-size="8.3" text-anchor="middle" textLength="15.8" lengthAdjust="spacingAndGlyphs">0.00</text>
<text x="418.61" y="141.00" font-size="8.3" text-anchor="middle" textLength="15.8" lengthAdjust="spacingAndGlyphs">0.25</text>
<text x="446.91" y="141.00" font-size="8.3" text-anchor="middle" textLength="15.8" lengthAdjust="spacingAndGlyphs">0.50</text>
<text x="475.20" y="141.00" font-size="8.3" text-anchor="middle" textLength="15.8" lengthAdjust="spacingAndGlyphs">0.75</text>
<text x="503.50" y="141.00" font-size="8.3" text-anchor="middle" textLength="15.8" lengthAdjust="spacingAndGlyphs">1.00</text>
<text x="373.90" y="118.20" font-size="8.3" text-anchor="end" textLength="15.9" lengthAdjust="spacingAndGlyphs">0.00</text>
<text x="373.90" y="99.83" font-size="8.3" text-anchor="end" textLength="15.9" lengthAdjust="spacingAndGlyphs">0.00</text>
<text x="373.90" y="81.46" font-size="8.3" text-anchor="end" textLength="15.9" lengthAdjust="spacingAndGlyphs">0.00</text>
<text x="373.90" y="63.09" font-size="8.3" text-anchor="end" textLength="15.9" lengthAdjust="spacingAndGlyphs">0.01</text>
<text x="373.90" y="44.72" font-size="8.3" text-anchor="end" textLength="15.9" lengthAdjust="spacingAndGlyphs">0.01</text>
<text x="373.90" y="26.35" font-size="8.3" text-anchor="end" textLength="15.9" lengthAdjust="spacingAndGlyphs">0.01</text>
<text x="441.25" y="13.50" font-size="9.1" text-anchor="middle" textLength="33.67" lengthAdjust="spacingAndGlyphs">R Temp</text>
<text x="441.25" y="150.30" font-size="8.1" text-anchor="middle" textLength="29.2" lengthAdjust="spacingAndGlyphs">Time (s)</text>
<text transform="translate(353.10,74.25) rotate(-90)" x="0" y="0" font-size="8.0" text-anchor="middle" textLength="26.4" lengthAdjust="spacingAndGlyphs">MI (bis)</text>
<text transform="translate(350.70,9.00) scale(0.915,1)" x="0" y="0" font-size="12.5">C</text>
<text x="564.32" y="141.00" font-size="8.3" text-anchor="middle" textLength="15.8" lengthAdjust="spacingAndGlyphs">0.00</text>
<text x="592.61" y="141.00" font-size="8.3" text-anchor="middle" textLength="15.8" lengthAdjust="spacingAndGlyphs">0.25</text>
<text x="620.91" y="141.00" font-size="8.3" text-anchor="middle" textLength="15.8" lengthAdjust="spacingAndGlyphs">0.50</text>
<text x="649.20" y="141.00" font-size="8.3" text-anchor="middle" textLength="15.8" lengthAdjust="spacingAndGlyphs">0.75</text>
<text x="677.50" y="141.00" font-size="8.3" text-anchor="middle" textLength="15.8" lengthAdjust="spacingAndGlyphs">1.00</text>
<text x="547.90" y="115.95" font-size="8.3" text-anchor="end" textLength="15.9" lengthAdjust="spacingAndGlyphs">0.00</text>
<text x="547.90" y="97.40" font-size="8.3" text-anchor="end" textLength="15.9" lengthAdjust="spacingAndGlyphs">0.00</text>
<text x="547.90" y="78.85" font-size="8.3" text-anchor="end" textLength="15.9" lengthAdjust="spacingAndGlyphs">0.00</text>
<text x="547.90" y="60.30" font-size="8.3" text-anchor="end" textLength="15.9" lengthAdjust="spacingAndGlyphs">0.01</text>
<text x="547.90" y="41.75" font-size="8.3" text-anchor="end" textLength="15.9" lengthAdjust="spacingAndGlyphs">0.01</text>
<text x="547.90" y="23.20" font-size="8.3" text-anchor="end" textLength="15.9" lengthAdjust="spacingAndGlyphs">0.01</text>
<text x="615.25" y="13.50" font-size="9.1" text-anchor="middle" textLength="23.10" lengthAdjust="spacingAndGlyphs">R Par</text>
<text x="615.25" y="150.30" font-size="8.1" text-anchor="middle" textLength="29.2" lengthAdjust="spacingAndGlyphs">Time (s)</text>
<text transform="translate(527.10,74.25) rotate(-90)" x="0" y="0" font-size="8.0" text-anchor="middle" textLength="26.4" lengthAdjust="spacingAndGlyphs">MI (bis)</text>
<text transform="translate(524.90,9.00) scale(0.96,1)" x="0" y="0" font-size="12.5">D</text>
<text x="42.32" y="309.95" font-size="8.3" text-anchor="middle" textLength="15.8" lengthAdjust="spacingAndGlyphs">0.00</text>
<text x="70.61" y="309.95" font-size="8.3" text-anchor="middle" textLength="15.8" lengthAdjust="spacingAndGlyphs">0.25</text>
<text x="98.91" y="309.95" font-size="8.3" text-anchor="middle" textLength="15.8" lengthAdjust="spacingAndGlyphs">0.50</text>
<text x="127.20" y="309.95" font-size="8.3" text-anchor="middle" textLength="15.8" lengthAdjust="spacingAndGlyphs">0.75</text>
<text x="155.50" y="309.95" font-size="8.3" text-anchor="middle" textLength="15.8" lengthAdjust="spacingAndGlyphs">1.00</text>
<text x="25.90" y="286.15" font-size="8.3" text-anchor="end" textLength="15.9" lengthAdjust="spacingAndGlyphs">0.00</text>
<text x="25.90" y="270.00" font-size="8.3" text-anchor="end" textLength="15.9" lengthAdjust="spacingAndGlyphs">0.00</text>
<text x="25.90" y="253.85" font-size="8.3" text-anchor="end" textLength="15.9" lengthAdjust="spacingAndGlyphs">0.00</text>
<text x="25.90" y="237.70" font-size="8.3" text-anchor="end" textLength="15.9" lengthAdjust="spacingAndGlyphs">0.01</text>
<text x="25.90" y="221.55" font-size="8.3" text-anchor="end" textLength="15.9" lengthAdjust="spacingAndGlyphs">0.01</text>
<text x="25.90" y="205.40" font-size="8.3" text-anchor="end" textLength="15.9" lengthAdjust="spacingAndGlyphs">0.01</text>
<text x="25.90" y="189.25" font-size="8.3" text-anchor="end" textLength="15.9" lengthAdjust="spacingAndGlyphs">0.02</text>
<text x="93.25" y="182.00" font-size="9.1" text-anchor="middle" textLength="38.02" lengthAdjust="spacingAndGlyphs">R MotPM</text>
<text x="93.25" y="318.30" font-size="8.1" text-anchor="middle" textLength="29.2" lengthAdjust="spacingAndGlyphs">Time (s)</text>
<text transform="translate(5.10,242.50) rotate(-90)" x="0" y="0" font-size="8.0" text-anchor="middle" textLength="26.4" lengthAdjust="spacingAndGlyphs">MI (bis)</text>
<text transform="translate(3.42,177.10) scale(0.805,1)" x="0" y="0" font-size="12.5">E</text>
<text x="216.32" y="309.95" font-size="8.3" text-anchor="middle" textLength="15.8" lengthAdjust="spacingAndGlyphs">0.00</text>
<text x="244.61" y="309.95" font-size="8.3" text-anchor="middle" textLength="15.8" lengthAdjust="spacingAndGlyphs">0.25</text>
<text x="272.91" y="309.95" font-size="8.3" text-anchor="middle" textLength="15.8" lengthAdjust="spacingAndGlyphs">0.50</text>
<text x="301.20" y="309.95" font-size="8.3" text-anchor="middle" textLength="15.8" lengthAdjust="spacingAndGlyphs">0.75</text>
<text x="329.50" y="309.95" font-size="8.3" text-anchor="middle" textLength="15.8" lengthAdjust="spacingAndGlyphs">1.00</text>
<text x="199.90" y="288.15" font-size="8.3" text-anchor="end" textLength="15.9" lengthAdjust="spacingAndGlyphs">0.00</text>
<text x="199.90" y="269.55" font-size="8.3" text-anchor="end" textLength="15.9" lengthAdjust="spacingAndGlyphs">0.00</text>
<text x="199.90" y="250.95" font-size="8.3" text-anchor="end" textLength="15.9" lengthAdjust="spacingAndGlyphs">0.00</text>
<text x="199.90" y="232.35" font-size="8.3" text-anchor="end" textLength="15.9" lengthAdjust="spacingAndGlyphs">0.01</text>
<text x="199.90" y="213.75" font-size="8.3" text-anchor="end" textLength="15.9" lengthAdjust="spacingAndGlyphs">0.01</text>
<text x="199.90" y="195.15" font-size="8.3" text-anchor="end" textLength="15.9" lengthAdjust="spacingAndGlyphs">0.01</text>
<text x="267.25" y="182.00" font-size="9.1" text-anchor="middle" textLength="33.27" lengthAdjust="spacingAndGlyphs">R dlPFC</text>
<text x="267.25" y="318.30" font-size="8.1" text-anchor="middle" textLength="29.2" lengthAdjust="spacingAndGlyphs">Time (s)</text>
<text transform="translate(179.10,242.50) rotate(-90)" x="0" y="0" font-size="8.0" text-anchor="middle" textLength="26.4" lengthAdjust="spacingAndGlyphs">MI (bis)</text>
<text transform="translate(177.70,177.10) scale(0.8,1)" x="0" y="0" font-size="12.5">F</text>
<text x="390.32" y="309.95" font-size="8.3" text-anchor="middle" textLength="15.8" lengthAdjust="spacingAndGlyphs">0.00</text>
<text x="418.61" y="309.95" font-size="8.3" text-anchor="middle" textLength="15.8" lengthAdjust="spacingAndGlyphs">0.25</text>
<text x="446.91" y="309.95" font-size="8.3" text-anchor="middle" textLength="15.8" lengthAdjust="spacingAndGlyphs">0.50</text>
<text x="475.20" y="309.95" font-size="8.3" text-anchor="middle" textLength="15.8" lengthAdjust="spacingAndGlyphs">0.75</text>
<text x="503.50" y="309.95" font-size="8.3" text-anchor="middle" textLength="15.8" lengthAdjust="spacingAndGlyphs">1.00</text>
<text x="373.90" y="293.80" font-size="8.3" text-anchor="end" textLength="15.9" lengthAdjust="spacingAndGlyphs">0.00</text>
<text x="373.90" y="263.15" font-size="8.3" text-anchor="end" textLength="15.9" lengthAdjust="spacingAndGlyphs">0.01</text>
<text x="373.90" y="232.50" font-size="8.3" text-anchor="end" textLength="15.9" lengthAdjust="spacingAndGlyphs">0.01</text>
<text x="373.90" y="201.85" font-size="8.3" text-anchor="end" textLength="15.9" lengthAdjust="spacingAndGlyphs">0.01</text>
<text x="441.25" y="182.00" font-size="9.1" text-anchor="middle" textLength="57.03" lengthAdjust="spacingAndGlyphs">R vmPFCOFC</text>
<text x="441.25" y="318.30" font-size="8.1" text-anchor="middle" textLength="29.2" lengthAdjust="spacingAndGlyphs">Time (s)</text>
<text transform="translate(353.10,242.50) rotate(-90)" x="0" y="0" font-size="8.0" text-anchor="middle" textLength="26.4" lengthAdjust="spacingAndGlyphs">MI (bis)</text>
<text transform="translate(350.70,177.10) scale(0.96,1)" x="0" y="0" font-size="12.5">G</text>
<text x="564.32" y="309.95" font-size="8.3" text-anchor="middle" textLength="15.8" lengthAdjust="spacingAndGlyphs">0.00</text>
<text x="592.61" y="309.95" font-size="8.3" text-anchor="middle" textLength="15.8" lengthAdjust="spacingAndGlyphs">0.25</text>
<text x="620.91" y="309.95" font-size="8.3" text-anchor="middle" textLength="15.8" lengthAdjust="spacingAndGlyphs">0.50</text>
<text x="649.20" y="309.95" font-size="8.3" text-anchor="middle" textLength="15.8" lengthAdjust="spacingAndGlyphs">0.75</text>
<text x="677.50" y="309.95" font-size="8.3" text-anchor="middle" textLength="15.8" lengthAdjust="spacingAndGlyphs">1.00</text>
<text x="547.90" y="288.46" font-size="8.3" text-anchor="end" textLength="15.9" lengthAdjust="spacingAndGlyphs">0.00</text>
<text x="547.90" y="259.59" font-size="8.3" text-anchor="end" textLength="15.9" lengthAdjust="spacingAndGlyphs">0.01</text>
<text x="547.90" y="230.72" font-size="8.3" text-anchor="end" textLength="15.9" lengthAdjust="spacingAndGlyphs">0.01</text>
<text x="547.90" y="201.85" font-size="8.3" text-anchor="end" textLength="15.9" lengthAdjust="spacingAndGlyphs">0.01</text>
<text x="615.25" y="182.00" font-size="9.1" text-anchor="middle" textLength="55.84" lengthAdjust="spacingAndGlyphs">L vmPFCOFC</text>
<text x="615.25" y="318.30" font-size="8.1" text-anchor="middle" textLength="29.2" lengthAdjust="spacingAndGlyphs">Time (s)</text>
<text transform="translate(527.10,242.50) rotate(-90)" x="0" y="0" font-size="8.0" text-anchor="middle" textLength="26.4" lengthAdjust="spacingAndGlyphs">MI (bis)</text>
<text transform="translate(525.00,177.10) scale(0.967,1)" x="0" y="0" font-size="12.5">H</text>
</svg></body></html>
